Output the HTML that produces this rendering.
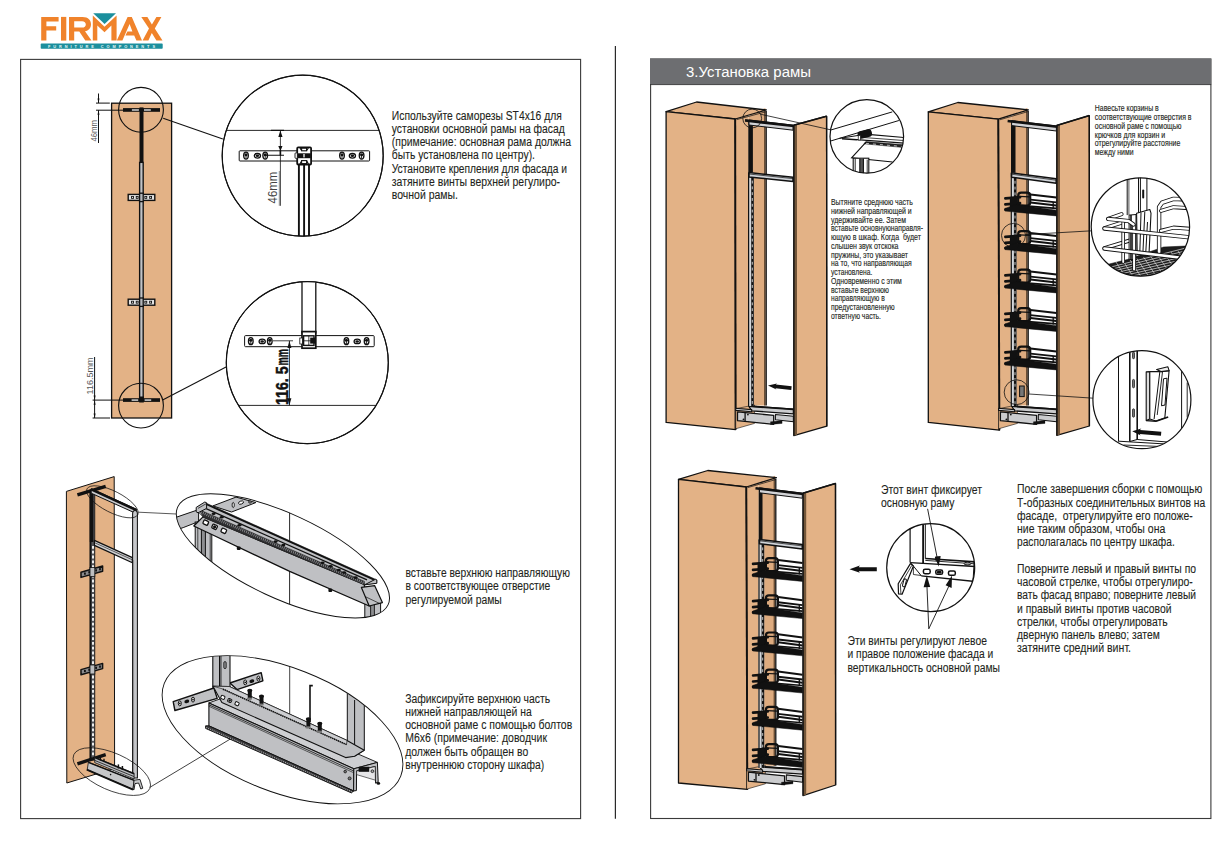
<!DOCTYPE html>
<html lang="ru">
<head>
<meta charset="utf-8">
<title>FIRMAX - installation</title>
<style>
html,body{margin:0;padding:0;background:#ffffff;}
body{width:1232px;height:864px;overflow:hidden;font-family:"Liberation Sans",sans-serif;}
svg{display:block;position:absolute;left:0;top:0;}
svg text{font-family:"Liberation Sans",sans-serif;}
</style>
</head>
<body>
<svg width="1232" height="864" viewBox="0 0 1232 864">
<rect x="0" y="0" width="1232" height="864" fill="#ffffff"/>

<!-- frames -->
<rect x="20.6" y="59.4" width="560" height="759.2" fill="none" stroke="#3a3a3a" stroke-width="1.1"/>
<line x1="615.4" y1="46" x2="615.4" y2="818.8" stroke="#2a2a2a" stroke-width="1.2"/>
<rect x="650.6" y="59" width="560.3" height="759.5" fill="none" stroke="#3a3a3a" stroke-width="1.1"/>
<rect x="650" y="58.6" width="561.2" height="26" fill="#6d6e71"/>
<line x1="650" y1="84.6" x2="1211.2" y2="84.6" stroke="#2a2a2a" stroke-width="0.8"/>
<text x="686" y="77.3" font-size="14.7" fill="#ffffff" textLength="125" lengthAdjust="spacingAndGlyphs">3.Установка рамы</text>
<!-- logo -->
<g id="logo"><path d="M41.2 16.9 H58.6 V21.4 H46.4 V26.3 H56.2 V30.6 H46.4 V40.6 H41.2 Z" fill="#f0832b"/>
<rect x="61" y="16.9" width="5.3" height="23.7" fill="#f0832b"/>
<path d="M69 16.9 H82.5 C88.5 16.9 91 20.3 91 24.2 C91 28.2 88.6 30.6 85 31.3 L91.5 40.6 H85.3 L79.3 31.6 H74.2 V40.6 H69 Z M74.2 21.2 V27.6 H82 C84.5 27.6 85.8 26.3 85.8 24.4 C85.8 22.5 84.5 21.2 82 21.2 Z" fill="#f0832b" fill-rule="evenodd"/>
<path d="M92.8 40.6 V15.6 L104.5 26.8 L116.6 15.6 V40.6 H111.4 V25.6 L104.5 32.2 L97.3 25.6 V40.6 Z" fill="#f0832b"/>
<path d="M116.8 40.6 L127.6 16.9 H131.8 L142 40.6 H136.4 L134.2 35.6 H125.4 L127.4 31.6 H132.4 L129.6 24 L122.4 40.6 Z" fill="#f0832b"/>
<path d="M141.3 16.9 H147.4 L151.9 24.6 L156.4 16.9 H161.4 L154.8 28.6 L162.5 40.6 H156.4 L151.8 33 L148.4 40.6 H142.6 L149 28.6 Z" fill="#f0832b"/>
<path d="M91.6 13.2 H117.8 L104.6 26 Z" fill="#ffffff"/>
<path d="M93.2 13.2 H116 L104.6 24 Z" fill="#1b8f9d"/>
<rect x="40.7" y="43.6" width="122" height="5.2" rx="0.8" fill="#1b8f9d"/>
<text x="48" y="47.7" font-size="3.9" font-weight="bold" fill="#e8f6f7" textLength="107" lengthAdjust="spacing">FURNITURE COMPONENTS</text></g>
<!-- text blocks -->
<text x="391.80" y="119.50" font-size="12.3" fill="#231f20" font-weight="normal" stroke="#231f20" stroke-width="0.1" textLength="170.00" lengthAdjust="spacingAndGlyphs">Используйте саморезы ST4x16 для</text>
<text x="391.80" y="132.75" font-size="12.3" fill="#231f20" font-weight="normal" stroke="#231f20" stroke-width="0.1" textLength="173.00" lengthAdjust="spacingAndGlyphs">установки основной рамы на фасад</text>
<text x="391.80" y="146.00" font-size="12.3" fill="#231f20" font-weight="normal" stroke="#231f20" stroke-width="0.1" textLength="179.30" lengthAdjust="spacingAndGlyphs">(примечание: основная рама должна</text>
<text x="391.80" y="159.25" font-size="12.3" fill="#231f20" font-weight="normal" stroke="#231f20" stroke-width="0.1" textLength="143.20" lengthAdjust="spacingAndGlyphs">быть установлена по центру).</text>
<text x="391.80" y="172.50" font-size="12.3" fill="#231f20" font-weight="normal" stroke="#231f20" stroke-width="0.1" textLength="175.30" lengthAdjust="spacingAndGlyphs">Установите крепления для фасада и</text>
<text x="391.80" y="185.75" font-size="12.3" fill="#231f20" font-weight="normal" stroke="#231f20" stroke-width="0.1" textLength="168.20" lengthAdjust="spacingAndGlyphs">затяните винты верхней регулиро-</text>
<text x="391.80" y="199.00" font-size="12.3" fill="#231f20" font-weight="normal" stroke="#231f20" stroke-width="0.1" textLength="66.20" lengthAdjust="spacingAndGlyphs">вочной рамы.</text>
<text x="405.40" y="577.00" font-size="12.3" fill="#231f20" font-weight="normal" stroke="#231f20" stroke-width="0.1" textLength="164.50" lengthAdjust="spacingAndGlyphs">вставьте верхнюю направляющую</text>
<text x="405.40" y="590.25" font-size="12.3" fill="#231f20" font-weight="normal" stroke="#231f20" stroke-width="0.1" textLength="145.00" lengthAdjust="spacingAndGlyphs">в соответствующее отверстие</text>
<text x="405.40" y="603.50" font-size="12.3" fill="#231f20" font-weight="normal" stroke="#231f20" stroke-width="0.1" textLength="96.40" lengthAdjust="spacingAndGlyphs">регулируемой рамы</text>
<text x="405.20" y="702.50" font-size="12.3" fill="#231f20" font-weight="normal" stroke="#231f20" stroke-width="0.1" textLength="145.00" lengthAdjust="spacingAndGlyphs">Зафиксируйте верхнюю часть</text>
<text x="405.20" y="715.75" font-size="12.3" fill="#231f20" font-weight="normal" stroke="#231f20" stroke-width="0.1" textLength="126.50" lengthAdjust="spacingAndGlyphs">нижней направляющей на</text>
<text x="405.20" y="729.00" font-size="12.3" fill="#231f20" font-weight="normal" stroke="#231f20" stroke-width="0.1" textLength="167.00" lengthAdjust="spacingAndGlyphs">основной раме с помощью болтов</text>
<text x="405.20" y="742.25" font-size="12.3" fill="#231f20" font-weight="normal" stroke="#231f20" stroke-width="0.1" textLength="141.80" lengthAdjust="spacingAndGlyphs">М6х6 (примечание: доводчик</text>
<text x="405.20" y="755.50" font-size="12.3" fill="#231f20" font-weight="normal" stroke="#231f20" stroke-width="0.1" textLength="123.00" lengthAdjust="spacingAndGlyphs">должен быть обращен во</text>
<text x="405.20" y="768.75" font-size="12.3" fill="#231f20" font-weight="normal" stroke="#231f20" stroke-width="0.1" textLength="139.00" lengthAdjust="spacingAndGlyphs">внутреннюю сторону шкафа)</text>
<text x="831.00" y="205.00" font-size="8.4" fill="#231f20" font-weight="normal" stroke="#231f20" stroke-width="0.13" textLength="81.75" lengthAdjust="spacingAndGlyphs">Вытяните среднюю часть</text>
<text x="831.00" y="213.77" font-size="8.4" fill="#231f20" font-weight="normal" stroke="#231f20" stroke-width="0.13" textLength="80.75" lengthAdjust="spacingAndGlyphs">нижней направляющей и</text>
<text x="831.00" y="222.54" font-size="8.4" fill="#231f20" font-weight="normal" stroke="#231f20" stroke-width="0.13" textLength="75.00" lengthAdjust="spacingAndGlyphs">удерживайте ее. Затем</text>
<text x="831.00" y="231.31" font-size="8.4" fill="#231f20" font-weight="normal" stroke="#231f20" stroke-width="0.13" textLength="92.00" lengthAdjust="spacingAndGlyphs">вставьте основнуюнаправля-</text>
<text x="831.00" y="240.08" font-size="8.4" fill="#231f20" font-weight="normal" stroke="#231f20" stroke-width="0.13" textLength="90.00" lengthAdjust="spacingAndGlyphs">ющую в шкаф. Когда&#160;&#160;будет</text>
<text x="831.00" y="248.85" font-size="8.4" fill="#231f20" font-weight="normal" stroke="#231f20" stroke-width="0.13" textLength="67.50" lengthAdjust="spacingAndGlyphs">слышен звук отскока</text>
<text x="831.00" y="257.62" font-size="8.4" fill="#231f20" font-weight="normal" stroke="#231f20" stroke-width="0.13" textLength="77.00" lengthAdjust="spacingAndGlyphs">пружины, это указывает</text>
<text x="831.00" y="266.39" font-size="8.4" fill="#231f20" font-weight="normal" stroke="#231f20" stroke-width="0.13" textLength="80.75" lengthAdjust="spacingAndGlyphs">на то, что направляющая</text>
<text x="831.00" y="275.16" font-size="8.4" fill="#231f20" font-weight="normal" stroke="#231f20" stroke-width="0.13" textLength="41.25" lengthAdjust="spacingAndGlyphs">установлена.</text>
<text x="831.00" y="283.93" font-size="8.4" fill="#231f20" font-weight="normal" stroke="#231f20" stroke-width="0.13" textLength="70.75" lengthAdjust="spacingAndGlyphs">Одновременно с этим</text>
<text x="831.00" y="292.70" font-size="8.4" fill="#231f20" font-weight="normal" stroke="#231f20" stroke-width="0.13" textLength="58.00" lengthAdjust="spacingAndGlyphs">вставьте верхнюю</text>
<text x="831.00" y="301.47" font-size="8.4" fill="#231f20" font-weight="normal" stroke="#231f20" stroke-width="0.13" textLength="53.75" lengthAdjust="spacingAndGlyphs">направляющую в</text>
<text x="831.00" y="310.24" font-size="8.4" fill="#231f20" font-weight="normal" stroke="#231f20" stroke-width="0.13" textLength="63.75" lengthAdjust="spacingAndGlyphs">предустановленную</text>
<text x="831.00" y="319.01" font-size="8.4" fill="#231f20" font-weight="normal" stroke="#231f20" stroke-width="0.13" textLength="50.00" lengthAdjust="spacingAndGlyphs">ответную часть.</text>
<text x="1094.80" y="111.20" font-size="8.4" fill="#231f20" font-weight="normal" stroke="#231f20" stroke-width="0.13" textLength="64.00" lengthAdjust="spacingAndGlyphs">Навесьте корзины в</text>
<text x="1094.80" y="120.00" font-size="8.4" fill="#231f20" font-weight="normal" stroke="#231f20" stroke-width="0.13" textLength="96.75" lengthAdjust="spacingAndGlyphs">соответствующие отверстия в</text>
<text x="1094.80" y="128.80" font-size="8.4" fill="#231f20" font-weight="normal" stroke="#231f20" stroke-width="0.13" textLength="86.75" lengthAdjust="spacingAndGlyphs">основной раме с помощью</text>
<text x="1094.80" y="137.60" font-size="8.4" fill="#231f20" font-weight="normal" stroke="#231f20" stroke-width="0.13" textLength="70.50" lengthAdjust="spacingAndGlyphs">крючков для корзин и</text>
<text x="1094.80" y="146.40" font-size="8.4" fill="#231f20" font-weight="normal" stroke="#231f20" stroke-width="0.13" textLength="85.50" lengthAdjust="spacingAndGlyphs">отрегулируйте расстояние</text>
<text x="1094.80" y="155.20" font-size="8.4" fill="#231f20" font-weight="normal" stroke="#231f20" stroke-width="0.13" textLength="38.75" lengthAdjust="spacingAndGlyphs">между ними</text>
<text x="881.00" y="493.75" font-size="12.3" fill="#231f20" font-weight="normal" stroke="#231f20" stroke-width="0.1" textLength="101.00" lengthAdjust="spacingAndGlyphs">Этот винт фиксирует</text>
<text x="881.00" y="507.00" font-size="12.3" fill="#231f20" font-weight="normal" stroke="#231f20" stroke-width="0.1" textLength="73.50" lengthAdjust="spacingAndGlyphs">основную раму</text>
<text x="847.50" y="645.00" font-size="12.3" fill="#231f20" font-weight="normal" stroke="#231f20" stroke-width="0.1" textLength="139.50" lengthAdjust="spacingAndGlyphs">Эти винты регулируют левое</text>
<text x="847.50" y="658.25" font-size="12.3" fill="#231f20" font-weight="normal" stroke="#231f20" stroke-width="0.1" textLength="145.75" lengthAdjust="spacingAndGlyphs">и правое положение фасада и</text>
<text x="847.50" y="671.50" font-size="12.3" fill="#231f20" font-weight="normal" stroke="#231f20" stroke-width="0.1" textLength="152.50" lengthAdjust="spacingAndGlyphs">вертикальность основной рамы</text>
<text x="1017.00" y="493.25" font-size="12.3" fill="#231f20" font-weight="normal" stroke="#231f20" stroke-width="0.1" textLength="185.25" lengthAdjust="spacingAndGlyphs">После завершения сборки с помощью</text>
<text x="1017.00" y="506.50" font-size="12.3" fill="#231f20" font-weight="normal" stroke="#231f20" stroke-width="0.1" textLength="188.25" lengthAdjust="spacingAndGlyphs">Т-образных соединительных винтов на</text>
<text x="1017.00" y="519.75" font-size="12.3" fill="#231f20" font-weight="normal" stroke="#231f20" stroke-width="0.1" textLength="175.75" lengthAdjust="spacingAndGlyphs">фасаде,&#160;&#160;отрегулируйте его положе-</text>
<text x="1017.00" y="533.00" font-size="12.3" fill="#231f20" font-weight="normal" stroke="#231f20" stroke-width="0.1" textLength="148.25" lengthAdjust="spacingAndGlyphs">ние таким образом, чтобы она</text>
<text x="1017.00" y="546.25" font-size="12.3" fill="#231f20" font-weight="normal" stroke="#231f20" stroke-width="0.1" textLength="157.75" lengthAdjust="spacingAndGlyphs">располагалась по центру шкафа.</text>
<text x="1017.00" y="572.75" font-size="12.3" fill="#231f20" font-weight="normal" stroke="#231f20" stroke-width="0.1" textLength="179.00" lengthAdjust="spacingAndGlyphs">Поверните левый и правый винты по</text>
<text x="1017.00" y="586.00" font-size="12.3" fill="#231f20" font-weight="normal" stroke="#231f20" stroke-width="0.1" textLength="175.75" lengthAdjust="spacingAndGlyphs">часовой стрелке, чтобы отрегулиро-</text>
<text x="1017.00" y="599.25" font-size="12.3" fill="#231f20" font-weight="normal" stroke="#231f20" stroke-width="0.1" textLength="179.00" lengthAdjust="spacingAndGlyphs">вать фасад вправо; поверните левый</text>
<text x="1017.00" y="612.50" font-size="12.3" fill="#231f20" font-weight="normal" stroke="#231f20" stroke-width="0.1" textLength="154.50" lengthAdjust="spacingAndGlyphs">и правый винты против часовой</text>
<text x="1017.00" y="625.75" font-size="12.3" fill="#231f20" font-weight="normal" stroke="#231f20" stroke-width="0.1" textLength="150.75" lengthAdjust="spacingAndGlyphs">стрелки, чтобы отрегулировать</text>
<text x="1017.00" y="639.00" font-size="12.3" fill="#231f20" font-weight="normal" stroke="#231f20" stroke-width="0.1" textLength="142.75" lengthAdjust="spacingAndGlyphs">дверную панель влево; затем</text>
<text x="1017.00" y="652.25" font-size="12.3" fill="#231f20" font-weight="normal" stroke="#231f20" stroke-width="0.1" textLength="114.00" lengthAdjust="spacingAndGlyphs">затяните средний винт.</text>
<rect x="111.6" y="103.2" width="60" height="314.8" fill="#e3b286" stroke="#111111" stroke-width="1.3"/>
<rect x="139.5" y="107.4" width="4" height="55" fill="#111111"/>
<rect x="139.6" y="162.4" width="3.6" height="236" fill="#b4b7bb" stroke="#111" stroke-width="1.3"/>
<line x1="141.5" y1="163" x2="141.5" y2="398" stroke="#c8cacd" stroke-width="0.6"/>
<rect x="123" y="108.1" width="37" height="3.7" fill="#111111"/>
<rect x="131.9" y="109.2" width="7" height="1.6" fill="#c8c8c8"/>
<rect x="144" y="109.2" width="6.8" height="1.6" fill="#c8c8c8"/>
<rect x="123" y="398.2" width="37" height="3.7" fill="#111111"/>
<rect x="131.6" y="399.3" width="6.6" height="1.6" fill="#c8c8c8"/>
<rect x="144.6" y="399.3" width="6.6" height="1.6" fill="#c8c8c8"/>
<rect x="139.2" y="396.5" width="4.6" height="6" fill="#111111"/>
<rect x="128.2" y="194.4" width="26.6" height="6" fill="#e2e2e2" stroke="#111111" stroke-width="1.4"/>
<rect x="131.1" y="196.0" width="2.8" height="2.8" fill="#111111"/>
<rect x="132.0" y="196.8" width="1" height="1.2" fill="#ddd"/>
<rect x="135.79999999999998" y="196.0" width="2.8" height="2.8" fill="#111111"/>
<rect x="136.7" y="196.8" width="1" height="1.2" fill="#ddd"/>
<rect x="144.4" y="196.0" width="2.8" height="2.8" fill="#111111"/>
<rect x="145.3" y="196.8" width="1" height="1.2" fill="#ddd"/>
<rect x="149.2" y="196.0" width="2.8" height="2.8" fill="#111111"/>
<rect x="150.1" y="196.8" width="1" height="1.2" fill="#ddd"/>
<rect x="139.6" y="193.20000000000002" width="3.6" height="8.4" fill="#b4b7bb" stroke="#111" stroke-width="1.3"/>
<rect x="128.2" y="299.2" width="26.6" height="6" fill="#e2e2e2" stroke="#111111" stroke-width="1.4"/>
<rect x="131.1" y="300.8" width="2.8" height="2.8" fill="#111111"/>
<rect x="132.0" y="301.59999999999997" width="1" height="1.2" fill="#ddd"/>
<rect x="135.79999999999998" y="300.8" width="2.8" height="2.8" fill="#111111"/>
<rect x="136.7" y="301.59999999999997" width="1" height="1.2" fill="#ddd"/>
<rect x="144.4" y="300.8" width="2.8" height="2.8" fill="#111111"/>
<rect x="145.3" y="301.59999999999997" width="1" height="1.2" fill="#ddd"/>
<rect x="149.2" y="300.8" width="2.8" height="2.8" fill="#111111"/>
<rect x="150.1" y="301.59999999999997" width="1" height="1.2" fill="#ddd"/>
<rect x="139.6" y="298.0" width="3.6" height="8.4" fill="#b4b7bb" stroke="#111" stroke-width="1.3"/>
<circle cx="141" cy="109.8" r="22.4" fill="none" stroke="#111111" stroke-width="1.1"/>
<circle cx="141" cy="405.6" r="22.4" fill="none" stroke="#111111" stroke-width="1.1"/>
<line x1="163.2" y1="118.3" x2="222.8" y2="139" stroke="#111111" stroke-width="1.05"/>
<line x1="162.6" y1="400" x2="227" y2="366.5" stroke="#111111" stroke-width="1.05"/>
<line x1="96" y1="103.1" x2="109.8" y2="103.1" stroke="#111111" stroke-width="1.0"/>
<line x1="96" y1="110.2" x2="123" y2="110.2" stroke="#111111" stroke-width="1.0"/>
<line x1="98.5" y1="93.5" x2="98.5" y2="103" stroke="#111111" stroke-width="1.0"/>
<line x1="98.5" y1="110.2" x2="98.5" y2="143" stroke="#111111" stroke-width="1.0"/>
<path d="M98.5 103.1 L97.5 98.6 L99.5 98.6 Z" fill="#111111"/>
<path d="M98.5 110.2 L97.5 114.7 L99.5 114.7 Z" fill="#111111"/>
<text transform="translate(96.6 141.6) rotate(-90)" font-size="8.6" fill="#555" textLength="21.5" lengthAdjust="spacingAndGlyphs">46mm</text>
<line x1="92.6" y1="400.1" x2="123" y2="400.1" stroke="#111111" stroke-width="1.0"/>
<line x1="92.6" y1="418" x2="110" y2="418" stroke="#111111" stroke-width="1.0"/>
<line x1="94.6" y1="357" x2="94.6" y2="418" stroke="#111111" stroke-width="1.0"/>
<path d="M94.6 400.1 L93.6 395.6 L95.6 395.6 Z" fill="#111111"/>
<path d="M94.6 400.2 L93.6 404.7 L95.6 404.7 Z" fill="#111111"/>
<path d="M94.6 418 L93.6 413.5 L95.6 413.5 Z" fill="#111111"/>
<text transform="translate(92.8 394.4) rotate(-90)" font-size="8.6" fill="#555" textLength="37" lengthAdjust="spacingAndGlyphs">116.5mm</text>
<clipPath id="c1"><circle cx="302.7" cy="155.7" r="80.5"/></clipPath>
<circle cx="302.7" cy="155.7" r="80.5" fill="#fff" stroke="#111111" stroke-width="1"/>
<g clip-path="url(#c1)"><line x1="220" y1="130.4" x2="390" y2="130.4" stroke="#111111" stroke-width="0.9"/><rect x="239.2" y="150.8" width="130.4" height="10.2" rx="0.8" fill="#fff" stroke="#111111" stroke-width="1"/><ellipse cx="246" cy="155.6" rx="2.34" ry="3.51" fill="#fff" stroke="#111111" stroke-width="1.3"/><circle cx="246" cy="154.69" r="1.56" fill="#111111"/><line x1="246" y1="155.6" x2="246" y2="158.72" stroke="#111111" stroke-width="0.9"/><ellipse cx="257.4" cy="155.8" rx="3.10" ry="2.30" fill="#fff" stroke="#111111" stroke-width="1.3"/><ellipse cx="257.4" cy="155.8" rx="1.72" ry="1.26" fill="#111111"/><ellipse cx="265.2" cy="155.6" rx="2.34" ry="3.51" fill="#fff" stroke="#111111" stroke-width="1.3"/><circle cx="265.2" cy="154.69" r="1.56" fill="#111111"/><line x1="265.2" y1="155.6" x2="265.2" y2="158.72" stroke="#111111" stroke-width="0.9"/><ellipse cx="342" cy="155.6" rx="2.34" ry="3.51" fill="#fff" stroke="#111111" stroke-width="1.3"/><circle cx="342" cy="154.69" r="1.56" fill="#111111"/><line x1="342" y1="155.6" x2="342" y2="158.72" stroke="#111111" stroke-width="0.9"/><ellipse cx="352.4" cy="155.8" rx="3.10" ry="2.30" fill="#fff" stroke="#111111" stroke-width="1.3"/><ellipse cx="352.4" cy="155.8" rx="1.72" ry="1.26" fill="#111111"/><ellipse cx="361.6" cy="155.6" rx="2.34" ry="3.51" fill="#fff" stroke="#111111" stroke-width="1.3"/><circle cx="361.6" cy="154.69" r="1.56" fill="#111111"/><line x1="361.6" y1="155.6" x2="361.6" y2="158.72" stroke="#111111" stroke-width="0.9"/><line x1="298.9" y1="163" x2="298.9" y2="240" stroke="#111111" stroke-width="1.9"/><line x1="304.1" y1="163" x2="304.1" y2="240" stroke="#111111" stroke-width="1.9"/><line x1="309.0" y1="163" x2="309.0" y2="240" stroke="#111111" stroke-width="1.9"/><rect x="297.2" y="147.4" width="13.9" height="17.1" rx="1" fill="#fff" stroke="#111111" stroke-width="1.8"/><rect x="297.6" y="153.3" width="13.2" height="4.9" fill="#111111"/><rect x="303.2" y="154" width="1.6" height="3.4" fill="#ccc"/><path d="M300 148 L301.6 150.4 M308.4 148 L306.6 150.4 M300 164 L302 160.4 M308.4 164 L306.4 160.4" stroke="#111111" stroke-width="1.2" fill="none"/><rect x="301.6" y="148.2" width="5" height="2.6" fill="#fff" stroke="#111111" stroke-width="1.1"/><rect x="301.6" y="160.6" width="5" height="3" fill="#fff" stroke="#111111" stroke-width="1.1"/><rect x="295" y="152.8" width="2.4" height="5.6" rx="1" fill="#fff" stroke="#111111" stroke-width="0.9"/><line x1="280.4" y1="130.4" x2="280.4" y2="205.8" stroke="#111111" stroke-width="0.8"/><line x1="271" y1="130.4" x2="284" y2="130.4" stroke="#111111" stroke-width="1.2"/><line x1="266" y1="155.3" x2="284" y2="155.3" stroke="#111111" stroke-width="1.1"/><path d="M280.4 130.6 L278.29999999999995 137.0 L282.5 137.0 Z" fill="#111111"/><path d="M280.4 151 L278.29999999999995 146 L282.5 146 Z" fill="#111111"/><line x1="280.4" y1="150" x2="280.4" y2="155.4" stroke="#111111" stroke-width="1.6"/><text transform="translate(277.4 203.4) rotate(-90)" font-size="12" fill="#444" textLength="31.5" lengthAdjust="spacingAndGlyphs">46mm</text><line x1="279.3" y1="171" x2="279.3" y2="205.8" stroke="#444" stroke-width="0.6"/></g>
<circle cx="302.7" cy="155.7" r="80.5" fill="none" stroke="#111111" stroke-width="1.2"/>
<clipPath id="c2"><circle cx="307.3" cy="362.7" r="81"/></clipPath>
<circle cx="307.3" cy="362.7" r="81" fill="#fff" stroke="#111111" stroke-width="1"/>
<g clip-path="url(#c2)"><line x1="220" y1="405.4" x2="395" y2="405.4" stroke="#111111" stroke-width="0.9"/><rect x="302" y="270" width="13.8" height="63" fill="#fff" stroke="#111111" stroke-width="1.3"/><rect x="244.6" y="335.6" width="129.6" height="11.1" rx="1" fill="#fff" stroke="#111111" stroke-width="1"/><ellipse cx="250.8" cy="341.2" rx="2.34" ry="3.51" fill="#fff" stroke="#111111" stroke-width="1.3"/><circle cx="250.8" cy="340.29" r="1.56" fill="#111111"/><line x1="250.8" y1="341.2" x2="250.8" y2="344.32" stroke="#111111" stroke-width="0.9"/><ellipse cx="262.2" cy="341.4" rx="3.10" ry="2.30" fill="#fff" stroke="#111111" stroke-width="1.3"/><ellipse cx="262.2" cy="341.4" rx="1.72" ry="1.26" fill="#111111"/><ellipse cx="269.8" cy="341.2" rx="2.34" ry="3.51" fill="#fff" stroke="#111111" stroke-width="1.3"/><circle cx="269.8" cy="340.29" r="1.56" fill="#111111"/><line x1="269.8" y1="341.2" x2="269.8" y2="344.32" stroke="#111111" stroke-width="0.9"/><ellipse cx="346.4" cy="341.2" rx="2.34" ry="3.51" fill="#fff" stroke="#111111" stroke-width="1.3"/><circle cx="346.4" cy="340.29" r="1.56" fill="#111111"/><line x1="346.4" y1="341.2" x2="346.4" y2="344.32" stroke="#111111" stroke-width="0.9"/><ellipse cx="357.2" cy="341.4" rx="3.10" ry="2.30" fill="#fff" stroke="#111111" stroke-width="1.3"/><ellipse cx="357.2" cy="341.4" rx="1.72" ry="1.26" fill="#111111"/><ellipse cx="366.6" cy="341.2" rx="2.34" ry="3.51" fill="#fff" stroke="#111111" stroke-width="1.3"/><circle cx="366.6" cy="340.29" r="1.56" fill="#111111"/><line x1="366.6" y1="341.2" x2="366.6" y2="344.32" stroke="#111111" stroke-width="0.9"/><rect x="302" y="331.6" width="13.8" height="16.6" fill="#fff" stroke="#111111" stroke-width="1.7"/><rect x="303.6" y="335.8" width="10.4" height="9.6" fill="#fff" stroke="#111111" stroke-width="1.4"/><line x1="308.8" y1="336" x2="308.8" y2="346" stroke="#111111" stroke-width="0.8"/><line x1="303" y1="340.8" x2="315" y2="340.8" stroke="#111111" stroke-width="0.8"/><rect x="310.2" y="337.6" width="5.4" height="6" fill="#111111"/><rect x="299.8" y="338" width="2.6" height="6" fill="#fff" stroke="#111111" stroke-width="0.8"/><line x1="289.4" y1="340.8" x2="289.4" y2="405.4" stroke="#111111" stroke-width="0.9"/><line x1="273" y1="340.8" x2="293" y2="340.8" stroke="#111111" stroke-width="0.8"/><path d="M289.4 341 L287.4 348 L291.4 348 Z" fill="#111111"/><path d="M289.4 405.2 L287.4 398.2 L291.4 398.2 Z" fill="#111111"/><text transform="translate(287.6 405) rotate(-90)" font-size="16" font-weight="bold" fill="#111111" stroke="#111111" stroke-width="0.5" textLength="38.6" lengthAdjust="spacingAndGlyphs">116. 5</text><text transform="translate(287.6 365.4) rotate(-90)" font-size="16" font-weight="bold" fill="#111111" stroke="#111111" stroke-width="0.5" textLength="16.4" lengthAdjust="spacingAndGlyphs">mm</text></g>
<circle cx="307.3" cy="362.7" r="81" fill="none" stroke="#111111" stroke-width="1.2"/>
<polygon points="66.4,491.4 114.2,476.6 114.6,768.4 66.8,783.0" fill="#e3b286" stroke="#111111" stroke-width="1.0" stroke-linejoin="round" />
<line x1="77.4" y1="494.8" x2="105.7" y2="486.4" stroke="#111111" stroke-width="3.4" />
<rect x="90" y="490" width="4.8" height="270" fill="#55565a" stroke="#111111" stroke-width="0.8"/>
<line x1="90.6" y1="490.0" x2="90.6" y2="760.0" stroke="#111111" stroke-width="1.6" />
<rect x="89.8" y="490" width="3.6" height="52" fill="#111111"/>
<line x1="93.0" y1="546.0" x2="93.0" y2="758.0" stroke="#f4f4f4" stroke-width="1.9" stroke-dasharray="2.8 2"/>
<polygon points="91.2,488.6 136.4,509.2 136.4,513.6 91.2,493.2" fill="#cacbce" stroke="#111111" stroke-width="1.0" stroke-linejoin="round" />
<line x1="91.2" y1="489.4" x2="136.4" y2="510.2" stroke="#111111" stroke-width="2.4" />
<polygon points="94.4,540.4 132.4,557.6 132.4,562.8 94.4,545.4" fill="#cfd0d3" stroke="#111111" stroke-width="1.25" stroke-linejoin="round" />
<line x1="94.4" y1="542.6" x2="132.4" y2="559.8" stroke="#111111" stroke-width="0.6" />
<path d="M132.6 778 V514 Q132.6 510.4 135 510.4 Q137.4 510.4 137.4 514 V778 Z" fill="#c6c7ca" stroke="#111111" stroke-width="1.05"/>
<line x1="133.6" y1="560.0" x2="133.6" y2="776.0" stroke="#666" stroke-width="0.5" />
<polygon points="81.0,572.2 102.6,566.0 102.6,571.2 81.0,577.4" fill="#8a8a8c" stroke="#111111" stroke-width="1.5" stroke-linejoin="round" />
<rect x="84.0" y="572.5" width="1.8" height="2.2" fill="#111111"/>
<rect x="88.3" y="571.2" width="1.8" height="2.2" fill="#111111"/>
<rect x="95.2" y="569.3" width="1.8" height="2.2" fill="#111111"/>
<rect x="99.1" y="568.1" width="1.8" height="2.2" fill="#111111"/>
<rect x="90" y="567.6" width="4.8" height="9" fill="#bdbec0" stroke="#111111" stroke-width="0.8"/>
<polygon points="81.0,669.6 102.6,663.4 102.6,668.6 81.0,674.8" fill="#8a8a8c" stroke="#111111" stroke-width="1.5" stroke-linejoin="round" />
<rect x="84.0" y="669.9" width="1.8" height="2.2" fill="#111111"/>
<rect x="88.3" y="668.6" width="1.8" height="2.2" fill="#111111"/>
<rect x="95.2" y="666.7" width="1.8" height="2.2" fill="#111111"/>
<rect x="99.1" y="665.5" width="1.8" height="2.2" fill="#111111"/>
<rect x="90" y="665.0" width="4.8" height="9" fill="#bdbec0" stroke="#111111" stroke-width="0.8"/>
<line x1="77.4" y1="763.8" x2="105.7" y2="754.6" stroke="#111111" stroke-width="3.4" />
<polygon points="94.7,757.2 134.1,773.4 134.1,779.0 94.7,762.6" fill="#b9babd" stroke="#111111" stroke-width="0.8" stroke-linejoin="round" />
<line x1="94.7" y1="757.6" x2="134.1" y2="773.8" stroke="#111111" stroke-width="1.5" />
<line x1="94.7" y1="760.4" x2="134.1" y2="776.6" stroke="#111111" stroke-width="0.8" />
<line x1="118.4" y1="764.4" x2="118.4" y2="768.4" stroke="#111111" stroke-width="1.5" />
<line x1="122.4" y1="766.0" x2="122.4" y2="770.0" stroke="#111111" stroke-width="1.5" />
<line x1="100.4" y1="757.4" x2="100.4" y2="760.4" stroke="#111111" stroke-width="1.3" />
<line x1="104.0" y1="758.8" x2="104.0" y2="761.8" stroke="#111111" stroke-width="1.3" />
<polygon points="88.4,762.2 134.1,780.2 133.0,789.4 87.2,769.8" fill="#c6c7c9" stroke="#111111" stroke-width="0.8" stroke-linejoin="round" />
<line x1="88.4" y1="762.4" x2="134.1" y2="780.4" stroke="#111111" stroke-width="1.5" />
<line x1="86.8" y1="769.6" x2="133.0" y2="789.6" stroke="#111111" stroke-width="2.0" />
<polygon points="134.1,780.2 140.0,779.4 142.8,788.2 140.8,789.0 138.6,783.0 135.0,783.6 134.0,789.8 133.0,789.4" fill="#c6c7c9" stroke="#111111" stroke-width="0.9" stroke-linejoin="round" />
<circle cx="110.6" cy="774.6" r="0.8" fill="#111111"/>
<ellipse cx="112.4" cy="501.8" rx="28.5" ry="10.6" transform="rotate(27 112.4 501.8)" fill="none" stroke="#111111" stroke-width="0.7"/>
<ellipse cx="111.8" cy="771.6" rx="41.6" ry="18.4" transform="rotate(24 111.8 771.6)" fill="none" stroke="#111111" stroke-width="0.7"/>
<line x1="138.4" y1="512.2" x2="176.4" y2="514.0" stroke="#111111" stroke-width="0.7" />
<clipPath id="e1"><ellipse cx="282.9" cy="555.9" rx="116" ry="42" transform="rotate(25 282.9 555.9)"/></clipPath>
<ellipse cx="282.9" cy="555.9" rx="116" ry="42" transform="rotate(25 282.9 555.9)" fill="#fff" stroke="none"/>
<g clip-path="url(#e1)"><line x1="289.6" y1="500.0" x2="289.6" y2="612.0" stroke="#111111" stroke-width="0.9" /><polygon points="170.0,519.4 198.6,509.6 198.6,521.6 183.2,527.6 170.0,532.0" fill="#bfc0c3" stroke="#111111" stroke-width="1.0" stroke-linejoin="round" /><polygon points="212.9,505.9 236.0,497.1 255.8,502.6 231.6,512.0" fill="#bfc0c3" stroke="#111111" stroke-width="1.0" stroke-linejoin="round" /><ellipse cx="233.2" cy="505" rx="1.1" ry="2.6" fill="#fff" stroke="#111111" stroke-width="0.9"/><ellipse cx="241" cy="502.6" rx="2.6" ry="1.5" transform="rotate(-20 241 502.6)" fill="#fff" stroke="#111111" stroke-width="0.9"/><ellipse cx="250" cy="502" rx="1.5" ry="1.2" fill="#888" stroke="#111111" stroke-width="0.7"/><rect x="195.2" y="522" width="16.6" height="60" fill="#bfc0c3" stroke="#111111" stroke-width="1"/><line x1="197.8" y1="524.0" x2="197.8" y2="582.0" stroke="#111111" stroke-width="0.7" /><rect x="201.4" y="524" width="3.8" height="58" fill="#8d8e91"/><line x1="201.4" y1="524.0" x2="201.4" y2="582.0" stroke="#111111" stroke-width="1.0" /><line x1="205.4" y1="528.0" x2="205.4" y2="582.0" stroke="#111111" stroke-width="1.0" /><line x1="210.2" y1="530.0" x2="210.2" y2="582.0" stroke="#111111" stroke-width="0.7" /><rect x="364.8" y="603" width="15.8" height="16" fill="#bfc0c3" stroke="#111111" stroke-width="1"/><rect x="370.6" y="604" width="3.6" height="14" fill="#8d8e91"/><line x1="370.6" y1="604.0" x2="370.6" y2="618.0" stroke="#111111" stroke-width="0.9" /><line x1="374.4" y1="604.0" x2="374.4" y2="618.0" stroke="#111111" stroke-width="0.9" /><polygon points="203.0,516.9 364.0,584.2 369.2,606.0 289.7,571.4 211.8,534.5 193.8,526.0" fill="#bfc0c3" stroke="#111111" stroke-width="1.3" stroke-linejoin="round" /><rect x="236.8" y="546.6" width="3.8" height="3.4" rx="1" fill="#111111"/><rect x="328.4" y="588.6" width="3.8" height="3.4" rx="1" fill="#111111"/><rect x="203.3" y="520.5" width="5" height="4.2" rx="1" transform="rotate(24 205.8 522.6)" fill="#fff" stroke="#111111" stroke-width="1.3"/><rect x="212.1" y="524.6999999999999" width="5" height="4.2" rx="1" transform="rotate(24 214.6 526.8)" fill="#fff" stroke="#111111" stroke-width="1.3"/><circle cx="214.6" cy="526.8" r="1.6" fill="#111111"/><rect x="221.3" y="528.6999999999999" width="5" height="4.2" rx="1" transform="rotate(24 223.8 530.8)" fill="#fff" stroke="#111111" stroke-width="1.3"/><polygon points="198.4,508.6 206.3,503.2 376.8,579.9 376.8,582.9 364.8,584.9 203.0,516.9 198.4,512.4" fill="#bfc0c3" stroke="#111111" stroke-width="0.5" stroke-linejoin="round" /><polygon points="199.0,509.5 364.4,581.3 364.6,585.0 203.0,517.0" fill="#2e2e30" stroke="#111111" stroke-width="0.4" stroke-linejoin="round" /><path d="M201.0 512.2 L364 583.0" stroke="#8e8f92" stroke-width="2.6" stroke-dasharray="0.8 1.25" fill="none"/><line x1="206.0" y1="504.0" x2="376.8" y2="580.8" stroke="#111111" stroke-width="1.9" /><line x1="199.0" y1="505.5" x2="367.0" y2="579.9" stroke="#111111" stroke-width="1.3" /><polygon points="196.2,507.4 204.8,502.0 206.6,502.8 206.6,508.4 198.0,512.8 196.2,511.8" fill="#bfc0c3" stroke="#111111" stroke-width="1.0" stroke-linejoin="round" /><line x1="198.0" y1="508.4" x2="206.4" y2="503.6" stroke="#111111" stroke-width="0.7" /><ellipse cx="213.6" cy="513.7" rx="2" ry="1.3" fill="#111111"/><ellipse cx="221.6" cy="517.3" rx="2" ry="1.3" fill="#111111"/><ellipse cx="239.4" cy="525.3" rx="2" ry="1.3" fill="#111111"/><ellipse cx="275.6" cy="541.6" rx="2" ry="1.3" fill="#111111"/><ellipse cx="283.4" cy="545.1" rx="2" ry="1.3" fill="#111111"/><ellipse cx="322.6" cy="562.7" rx="2" ry="1.3" fill="#111111"/><ellipse cx="330.6" cy="566.3" rx="2" ry="1.3" fill="#111111"/><ellipse cx="338.8" cy="570.0" rx="2" ry="1.3" fill="#111111"/><ellipse cx="344.2" cy="572.5" rx="2" ry="1.3" fill="#111111"/><ellipse cx="355.6" cy="577.6" rx="2" ry="1.3" fill="#111111"/><polygon points="361.4,587.4 374.6,585.6 382.4,602.6 369.2,606.0" fill="#bfc0c3" stroke="#111111" stroke-width="1.2" stroke-linejoin="round" /><line x1="365.2" y1="596.6" x2="379.0" y2="603.2" stroke="#111111" stroke-width="0.7" /><polygon points="364.6,584.8 376.8,583.3 376.8,580.1 375.4,579.3" fill="#bfc0c3" stroke="#111111" stroke-width="1.0" stroke-linejoin="round" /></g>
<ellipse cx="282.9" cy="555.9" rx="116" ry="42" transform="rotate(25 282.9 555.9)" fill="none" stroke="#111111" stroke-width="0.95"/>
<clipPath id="e2"><ellipse cx="282.5" cy="729.75" rx="127" ry="62" transform="rotate(21.4 282.5 729.75)"/></clipPath>
<ellipse cx="282.5" cy="729.75" rx="127" ry="62" transform="rotate(21.4 282.5 729.75)" fill="#fff" stroke="none"/>
<line x1="149.8" y1="787.4" x2="231.0" y2="738.6" stroke="#111111" stroke-width="0.8" />
<g clip-path="url(#e2)"><line x1="289.7" y1="640.0" x2="289.7" y2="714.0" stroke="#111111" stroke-width="0.8" /><polygon points="173.2,701.7 213.9,688.0 217.2,698.4 174.9,710.5" fill="#bfc0c3" stroke="#111111" stroke-width="1.4" stroke-linejoin="round" /><polygon points="229.9,683.0 261.2,672.6 262.9,680.8 237.0,689.6" fill="#bfc0c3" stroke="#111111" stroke-width="1.4" stroke-linejoin="round" /><ellipse cx="179.8" cy="703.4" rx="1.5" ry="2.5" fill="#fff" stroke="#111111" stroke-width="1"/><circle cx="179.8" cy="703.4" r="0.9" fill="#111111"/><ellipse cx="186.8" cy="701.4" rx="2.5" ry="1.7" transform="rotate(-18 186.8 701.4)" fill="#111111"/><ellipse cx="193" cy="699.6" rx="1.5" ry="2.5" fill="#fff" stroke="#111111" stroke-width="1"/><circle cx="193" cy="699.6" r="0.9" fill="#111111"/><ellipse cx="245.2" cy="682.4" rx="1.5" ry="2.5" fill="#fff" stroke="#111111" stroke-width="1"/><circle cx="245.2" cy="682.4" r="0.9" fill="#111111"/><ellipse cx="251.8" cy="681.2" rx="2.5" ry="1.7" transform="rotate(-18 251.8 681.2)" fill="#111111"/><ellipse cx="258.4" cy="678.6" rx="1.5" ry="2.5" fill="#fff" stroke="#111111" stroke-width="1"/><circle cx="258.4" cy="678.6" r="0.9" fill="#111111"/><polygon points="208.9,702.9 226.0,696.8 377.4,762.4 353.8,768.8" fill="#cecfd2" stroke="#111111" stroke-width="0.9" stroke-linejoin="round" /><rect x="212.8" y="640" width="17.2" height="47.4" fill="#bfc0c3" stroke="#111111" stroke-width="1.1"/><line x1="219.6" y1="640.0" x2="219.6" y2="688.0" stroke="#111111" stroke-width="1.2" /><line x1="221.0" y1="640.0" x2="221.0" y2="688.0" stroke="#111111" stroke-width="0.8" /><rect x="223.8" y="661.6" width="2.4" height="7" rx="1.2" fill="#8d8e91" stroke="#111111" stroke-width="0.8"/><polygon points="347.3,690.0 364.3,690.0 364.3,750.2 354.6,756.2 347.3,752.0" fill="#bfc0c3" stroke="#111111" stroke-width="1.0" stroke-linejoin="round" /><line x1="354.6" y1="700.0" x2="354.6" y2="756.0" stroke="#111111" stroke-width="1.0" /><polygon points="213.0,686.2 229.2,686.5 347.0,740.4 364.3,750.2 354.6,756.2 345.6,757.6 221.9,702.6" fill="#bfc0c3" stroke="#111111" stroke-width="1.1" stroke-linejoin="round" /><polygon points="213.0,686.2 229.2,686.5 347.0,740.4 346.5,744.5 222.9,689.0" fill="#cecfd2" stroke="#111111" stroke-width="0.6" stroke-linejoin="round" /><path d="M222.9 689.2 L346.5 744.6" stroke="#111111" stroke-width="1.5" stroke-dasharray="1.2 0.9" fill="none"/><rect x="220.9" y="695.6999999999999" width="3.8" height="3.4" rx="0.8" transform="rotate(24 222.8 697.4)" fill="#fff" stroke="#111111" stroke-width="1"/><rect x="227.79999999999998" y="698.8" width="3.8" height="3.4" rx="0.8" transform="rotate(24 229.7 700.5)" fill="#fff" stroke="#111111" stroke-width="1"/><circle cx="229.7" cy="700.5" r="1.2" fill="#111111"/><rect x="235.1" y="702.0" width="3.8" height="3.4" rx="0.8" transform="rotate(24 237 703.7)" fill="#fff" stroke="#111111" stroke-width="1"/><rect x="247.8" y="689.6" width="4" height="9" rx="1.3" fill="#111111"/><ellipse cx="249.8" cy="690.4" rx="2.6" ry="1.7" fill="#111111"/><ellipse cx="249.4" cy="698.8000000000001" rx="2.8" ry="1.2" fill="#777"/><rect x="259.5" y="695.4" width="4" height="9" rx="1.3" fill="#111111"/><ellipse cx="261.5" cy="696.1999999999999" rx="2.6" ry="1.7" fill="#111111"/><ellipse cx="261.1" cy="704.6" rx="2.8" ry="1.2" fill="#777"/><rect x="306.4" y="718.2" width="4" height="9" rx="1.3" fill="#111111"/><ellipse cx="308.4" cy="719.0" rx="2.6" ry="1.7" fill="#111111"/><ellipse cx="308.0" cy="727.4000000000001" rx="2.8" ry="1.2" fill="#777"/><rect x="317.8" y="722.6" width="4" height="9" rx="1.3" fill="#111111"/><ellipse cx="319.8" cy="723.4" rx="2.6" ry="1.7" fill="#111111"/><ellipse cx="319.40000000000003" cy="731.8000000000001" rx="2.8" ry="1.2" fill="#777"/><path d="M312.8 685.6 H310 V722" fill="none" stroke="#111111" stroke-width="1.6"/><polygon points="208.9,702.9 353.8,768.8 353.6,790.9 208.9,726.0" fill="#bfc0c3" stroke="#111111" stroke-width="1.1" stroke-linejoin="round" /><line x1="208.9" y1="704.8" x2="353.8" y2="771.0" stroke="#111111" stroke-width="0.8" /><line x1="208.9" y1="706.3" x2="353.8" y2="772.8" stroke="#111111" stroke-width="0.6" /><polygon points="205.6,725.8 208.9,725.8 353.6,790.9 351.4,792.9 205.6,728.4" fill="#3a3a3c" stroke="#111111" stroke-width="0.9" stroke-linejoin="round" /><path d="M206.4 727.6 L351.6 791.7" stroke="#bdbdbf" stroke-width="1.1" stroke-dasharray="0.8 1.2" fill="none"/><polygon points="353.8,768.8 377.4,762.4 378.2,781.8 375.6,783.2 375.2,766.4 356.6,770.8 356.4,790.6 353.6,790.9" fill="#bfc0c3" stroke="#111111" stroke-width="1.0" stroke-linejoin="round" /><polygon points="356.6,771.0 375.2,766.6 375.4,780.2 356.6,774.6" fill="#e6e6e8" stroke="#111111" stroke-width="0.6" stroke-linejoin="round" /><rect x="358.6" y="766.8" width="10.6" height="5" fill="#111111"/><circle cx="372.4" cy="771.2" r="1.4" fill="#aaa" stroke="#111111" stroke-width="0.8"/><circle cx="345.2" cy="771.6" r="1.3" fill="#777" stroke="#111111" stroke-width="0.8"/><circle cx="349.6" cy="778.4" r="1.5" fill="#777" stroke="#111111" stroke-width="0.8"/><ellipse cx="378.4" cy="783.4" rx="1.8" ry="1.3" fill="#111111"/></g>
<ellipse cx="282.5" cy="729.75" rx="127" ry="62" transform="rotate(21.4 282.5 729.75)" fill="none" stroke="#111111" stroke-width="0.9"/>
<polygon points="748.5,116.0 765.4,108.0 765.4,405.4 748.5,405.4" fill="#ddab7f" stroke="#111111" stroke-width="0" stroke-linejoin="round" /><polygon points="735.2,116.0 748.5,116.0 748.5,409.0 735.2,409.0" fill="#e3b286" stroke="#111111" stroke-width="0" stroke-linejoin="round" /><line x1="764.8" y1="111.0" x2="764.8" y2="405.4" stroke="#6a4e35" stroke-width="1.6" /><line x1="766.2" y1="111.0" x2="766.2" y2="405.4" stroke="#111" stroke-width="1.3" /><polygon points="666.1,111.6 696.6,102.0 766.4,110.0 735.2,119.0" fill="#e3b286" stroke="#111111" stroke-width="1.3" stroke-linejoin="round" /><line x1="736.7" y1="119.6" x2="765.9" y2="111.8" stroke="#111111" stroke-width="0.7" /><polygon points="666.1,111.6 735.2,119.0 735.6,429.6 666.1,422.4" fill="#e3b286" stroke="#111111" stroke-width="1.3" stroke-linejoin="round" /><line x1="735.2" y1="119.0" x2="735.6" y2="429.6" stroke="#111111" stroke-width="1.9" /><polygon points="793.8,125.2 826.6,116.2 826.8,426.2 793.8,435.6" fill="#e3b286" stroke="#111111" stroke-width="1.3" stroke-linejoin="round" /><polygon points="793.8,125.2 797.0,124.3 797.0,434.7 793.8,435.6" fill="#735639" stroke="none" stroke-width="0" stroke-linejoin="round" /><line x1="794.0" y1="125.2" x2="794.0" y2="435.6" stroke="#111111" stroke-width="1.2" /><line x1="793.8" y1="125.2" x2="826.6" y2="116.2" stroke="#111111" stroke-width="1.6" /><line x1="826.6" y1="116.2" x2="826.8" y2="426.2" stroke="#111111" stroke-width="1.3" />
<polygon points="735.7,408.7 754.5,405.0 754.5,423.4 735.7,428.8" fill="#e3b286" stroke="#111111" stroke-width="0.6" stroke-linejoin="round" /><polygon points="748.7,406.0 793.4,409.1 793.4,413.8 751.7,410.9" fill="#cbccce" stroke="#111111" stroke-width="1.3" stroke-linejoin="round" /><line x1="748.7" y1="406.2" x2="793.4" y2="409.3" stroke="#111111" stroke-width="1.8" /><polygon points="735.7,408.2 751.7,409.6 751.7,411.8 735.7,410.4" fill="#cbccce" stroke="#111111" stroke-width="1.1" stroke-linejoin="round" /><polygon points="775.4,414.5 793.4,416.2 793.4,421.8 775.4,419.8" fill="#cbccce" stroke="#111111" stroke-width="1.1" stroke-linejoin="round" /><polygon points="737.5,411.8 773.7,415.4 773.7,424.3 737.5,420.7" fill="#cbccce" stroke="#111111" stroke-width="1.3" stroke-linejoin="round" /><line x1="745.1" y1="412.6" x2="745.1" y2="421.4" stroke="#111111" stroke-width="1.3" /><polygon points="770.5,421.8 782.1,420.6 782.1,423.4 770.5,424.6" fill="#111111" stroke="#111111" stroke-width="0.3" stroke-linejoin="round" /><circle cx="747.9" cy="414.6" r="0.9" fill="#111111"/><circle cx="743.5" cy="419.4" r="0.9" fill="#111111"/>
<rect x="748.3" y="120.0" width="4.6" height="54.6" fill="#111111"/><rect x="748.0" y="172.6" width="5.8" height="233.4" fill="#d4d7db"/><line x1="748.6" y1="172.6" x2="748.6" y2="406.0" stroke="#111111" stroke-width="1.2" /><line x1="752.5" y1="175.6" x2="752.5" y2="406.0" stroke="#111111" stroke-width="2.6" /><line x1="752.3" y1="180.6" x2="752.3" y2="406.0" stroke="#f2f2f2" stroke-width="0.8" stroke-dasharray="2.9 2.9"/><polygon points="749.0,120.0 793.0,125.2 793.0,130.2 749.0,125.0" fill="#d2d3d6" stroke="#111111" stroke-width="1.0" stroke-linejoin="round" /><line x1="745.0" y1="120.4" x2="794.0" y2="126.0" stroke="#111111" stroke-width="2.6" /><polygon points="749.0,172.6 793.0,177.2 793.0,181.6 749.0,177.0" fill="#d0d4d9" stroke="#111111" stroke-width="1.5" stroke-linejoin="round" /><line x1="749.0" y1="174.0" x2="793.0" y2="178.6" stroke="#111111" stroke-width="0.7" />
<path d="M768 385.6 L776.8 382.5 L775.5999999999999 383.70000000000005 L791.6 383.70000000000005 L791.6 387.5 L775.5999999999999 387.5 L776.8 388.70000000000005 Z" fill="#111111" transform="rotate(6 768 385.6)"/>
<circle cx="752.2" cy="118.5" r="9.4" fill="none" stroke="#111111" stroke-width="0.8"/>
<line x1="760.4" y1="114.2" x2="830.6" y2="129.8" stroke="#111111" stroke-width="0.8" />
<line x1="757.0" y1="126.4" x2="766.0" y2="128.2" stroke="#111111" stroke-width="0" />
<clipPath id="c3"><circle cx="866.8" cy="136.4" r="36.8"/></clipPath>
<circle cx="866.8" cy="136.4" r="36.8" fill="#fff"/>
<g clip-path="url(#c3)"><line x1="826.0" y1="131.4" x2="892.3" y2="111.9" stroke="#111111" stroke-width="1.0" /><line x1="828.0" y1="141.8" x2="898.9" y2="120.5" stroke="#111111" stroke-width="1.0" /><line x1="839.3" y1="138.4" x2="870.0" y2="133.6" stroke="#111111" stroke-width="1.0" /><line x1="868.0" y1="134.4" x2="905.0" y2="137.6" stroke="#111111" stroke-width="1.1" /><line x1="842.0" y1="138.8" x2="857.0" y2="139.8" stroke="#111111" stroke-width="1.6" /><line x1="857.0" y1="139.6" x2="905.0" y2="143.2" stroke="#111111" stroke-width="1.2" /><line x1="862.0" y1="137.4" x2="905.0" y2="140.6" stroke="#111111" stroke-width="0.8" /><polygon points="865.8,141.6 904.0,144.8 904.0,147.6 864.0,143.8" fill="#222" stroke="#111111" stroke-width="0.5" stroke-linejoin="round" /><path d="M866 143.4 L904 146.6" stroke="#bbb" stroke-width="1" stroke-dasharray="3 4" fill="none"/><rect x="857.6" y="130.2" width="14.4" height="7.6" rx="3" transform="rotate(-14 864.8 134)" fill="#111111"/><rect x="858.2" y="135.4" width="2.2" height="4.6" fill="#fff" stroke="#111111" stroke-width="0.7"/><path d="M865.8 142.4 L851.6 157.8 L892.6 162" fill="none" stroke="#111111" stroke-width="1.1"/><rect x="853.2" y="158.2" width="15.6" height="20" fill="#fff" stroke="#111111" stroke-width="1.1"/><line x1="855.2" y1="158.6" x2="855.2" y2="176.0" stroke="#111111" stroke-width="0.9" /><rect x="859.8" y="158.8" width="3.6" height="18" fill="#555"/><line x1="859.8" y1="158.6" x2="859.8" y2="176.0" stroke="#111111" stroke-width="1.1" /><line x1="863.4" y1="158.6" x2="863.4" y2="176.0" stroke="#111111" stroke-width="1.1" /><line x1="867.2" y1="159.6" x2="867.2" y2="176.0" stroke="#111111" stroke-width="0.8" /></g>
<circle cx="866.8" cy="136.4" r="36.8" fill="none" stroke="#111111" stroke-width="1.2"/>
<polygon points="1011.2,116.2 1027.4,107.8 1027.4,405.4 1011.2,405.4" fill="#ddab7f" stroke="#111111" stroke-width="0" stroke-linejoin="round" /><polygon points="998.3,116.2 1011.2,116.2 1011.2,409.0 998.3,409.0" fill="#e3b286" stroke="#111111" stroke-width="0" stroke-linejoin="round" /><line x1="1026.8" y1="110.8" x2="1026.8" y2="405.4" stroke="#6a4e35" stroke-width="1.6" /><line x1="1028.2" y1="110.8" x2="1028.2" y2="405.4" stroke="#111" stroke-width="1.3" /><polygon points="928.3,111.8 957.8,102.5 1028.4,109.8 998.3,119.2" fill="#e3b286" stroke="#111111" stroke-width="1.3" stroke-linejoin="round" /><line x1="999.8" y1="119.8" x2="1027.9" y2="111.6" stroke="#111111" stroke-width="0.7" /><polygon points="928.3,111.8 998.3,119.2 999.4,430.2 928.3,422.4" fill="#e3b286" stroke="#111111" stroke-width="1.3" stroke-linejoin="round" /><line x1="998.3" y1="119.2" x2="999.4" y2="430.2" stroke="#111111" stroke-width="1.9" /><polygon points="1056.8,125.4 1089.3,115.6 1089.4,426.0 1056.8,435.4" fill="#e3b286" stroke="#111111" stroke-width="1.3" stroke-linejoin="round" /><polygon points="1056.8,125.4 1060.0,124.5 1060.0,434.5 1056.8,435.4" fill="#735639" stroke="none" stroke-width="0" stroke-linejoin="round" /><line x1="1057.0" y1="125.4" x2="1057.0" y2="435.4" stroke="#111111" stroke-width="1.2" /><line x1="1056.8" y1="125.4" x2="1089.3" y2="115.6" stroke="#111111" stroke-width="1.6" /><line x1="1089.3" y1="115.6" x2="1089.4" y2="426.0" stroke="#111111" stroke-width="1.3" />
<polygon points="998.6,408.7 1017.4,405.0 1017.4,423.4 998.6,428.8" fill="#e3b286" stroke="#111111" stroke-width="0.6" stroke-linejoin="round" /><polygon points="1011.6,406.0 1056.6,409.1 1056.6,413.8 1014.6,410.9" fill="#cbccce" stroke="#111111" stroke-width="1.3" stroke-linejoin="round" /><line x1="1011.6" y1="406.2" x2="1056.6" y2="409.3" stroke="#111111" stroke-width="1.8" /><polygon points="998.6,408.2 1014.6,409.6 1014.6,411.8 998.6,410.4" fill="#cbccce" stroke="#111111" stroke-width="1.1" stroke-linejoin="round" /><polygon points="1038.3,414.5 1056.6,416.2 1056.6,421.8 1038.3,419.8" fill="#cbccce" stroke="#111111" stroke-width="1.1" stroke-linejoin="round" /><polygon points="1000.4,411.8 1036.6,415.4 1036.6,424.3 1000.4,420.7" fill="#cbccce" stroke="#111111" stroke-width="1.3" stroke-linejoin="round" /><line x1="1008.0" y1="412.6" x2="1008.0" y2="421.4" stroke="#111111" stroke-width="1.3" /><polygon points="1033.4,421.8 1045.0,420.6 1045.0,423.4 1033.4,424.6" fill="#111111" stroke="#111111" stroke-width="0.3" stroke-linejoin="round" /><circle cx="1010.8" cy="414.6" r="0.9" fill="#111111"/><circle cx="1006.4" cy="419.4" r="0.9" fill="#111111"/>
<rect x="1011" y="120.6" width="4.5" height="54.2" fill="#111111"/><rect x="1010.7" y="172.8" width="5.8" height="233.2" fill="#d4d7db"/><line x1="1011.3" y1="172.8" x2="1011.3" y2="406.0" stroke="#111111" stroke-width="1.2" /><line x1="1015.2" y1="175.8" x2="1015.2" y2="406.0" stroke="#111111" stroke-width="2.6" /><line x1="1015.0" y1="180.8" x2="1015.0" y2="406.0" stroke="#f2f2f2" stroke-width="0.8" stroke-dasharray="2.9 2.9"/><polygon points="1011.6,120.6 1056.4,126.0 1056.4,131.0 1011.6,125.6" fill="#d2d3d6" stroke="#111111" stroke-width="1.0" stroke-linejoin="round" /><line x1="1007.6" y1="121.0" x2="1057.4" y2="126.8" stroke="#111111" stroke-width="2.6" /><polygon points="1011.6,172.8 1056.2,178.8 1056.2,183.2 1011.6,177.2" fill="#d0d4d9" stroke="#111111" stroke-width="1.5" stroke-linejoin="round" /><line x1="1011.6" y1="174.2" x2="1056.2" y2="180.2" stroke="#111111" stroke-width="0.7" />
<rect x="1018.2" y="192.6" width="12" height="13" rx="3" fill="none" stroke="#111111" stroke-width="2.2"/><line x1="1019.0" y1="196.4" x2="1030.0" y2="196.8" stroke="#111111" stroke-width="1.2" /><line x1="1030.4" y1="194.4" x2="1056.4" y2="197.6" stroke="#111111" stroke-width="2.0" /><line x1="1030.4" y1="199.6" x2="1056.4" y2="202.4" stroke="#111111" stroke-width="1.9" /><line x1="1030.4" y1="202.4" x2="1056.4" y2="205.6" stroke="#111111" stroke-width="2.0" /><line x1="1019.0" y1="205.4" x2="1056.4" y2="208.4" stroke="#111111" stroke-width="1.6" /><line x1="1053.2" y1="202.0" x2="1053.2" y2="209.0" stroke="#111111" stroke-width="1.3" /><line x1="1005.4" y1="198.4" x2="1020.0" y2="197.2" stroke="#111111" stroke-width="2.7" stroke-linecap="round"/><line x1="1005.4" y1="204.4" x2="1020.0" y2="203.2" stroke="#111111" stroke-width="2.7" stroke-linecap="round"/><line x1="1005.4" y1="209.7" x2="1020.0" y2="208.5" stroke="#111111" stroke-width="2.7" stroke-linecap="round"/><polygon points="1010.0,197.4 1017.5,196.6 1017.5,205.0 1010.0,208.0" fill="#111111" stroke="#111111" stroke-width="0.3" stroke-linejoin="round" /><polygon points="1005.0,208.4 1016.4,204.4 1056.4,210.2 1056.4,215.9 1005.0,211.1" fill="#111111" stroke="#111111" stroke-width="0.5" stroke-linejoin="round" />
<rect x="1018.2" y="231.1" width="12" height="13" rx="3" fill="none" stroke="#111111" stroke-width="2.2"/><line x1="1019.0" y1="234.9" x2="1030.0" y2="235.3" stroke="#111111" stroke-width="1.2" /><line x1="1030.4" y1="232.9" x2="1056.4" y2="236.1" stroke="#111111" stroke-width="2.0" /><line x1="1030.4" y1="238.1" x2="1056.4" y2="240.9" stroke="#111111" stroke-width="1.9" /><line x1="1030.4" y1="240.9" x2="1056.4" y2="244.1" stroke="#111111" stroke-width="2.0" /><line x1="1019.0" y1="243.9" x2="1056.4" y2="246.9" stroke="#111111" stroke-width="1.6" /><line x1="1053.2" y1="240.5" x2="1053.2" y2="247.5" stroke="#111111" stroke-width="1.3" /><line x1="1005.4" y1="236.9" x2="1020.0" y2="235.7" stroke="#111111" stroke-width="2.7" stroke-linecap="round"/><line x1="1005.4" y1="242.9" x2="1020.0" y2="241.7" stroke="#111111" stroke-width="2.7" stroke-linecap="round"/><line x1="1005.4" y1="248.2" x2="1020.0" y2="247.0" stroke="#111111" stroke-width="2.7" stroke-linecap="round"/><polygon points="1010.0,235.9 1017.5,235.1 1017.5,243.5 1010.0,246.5" fill="#111111" stroke="#111111" stroke-width="0.3" stroke-linejoin="round" /><polygon points="1005.0,246.9 1016.4,242.9 1056.4,248.7 1056.4,254.4 1005.0,249.6" fill="#111111" stroke="#111111" stroke-width="0.5" stroke-linejoin="round" />
<rect x="1018.2" y="269.6" width="12" height="13" rx="3" fill="none" stroke="#111111" stroke-width="2.2"/><line x1="1019.0" y1="273.4" x2="1030.0" y2="273.8" stroke="#111111" stroke-width="1.2" /><line x1="1030.4" y1="271.4" x2="1056.4" y2="274.6" stroke="#111111" stroke-width="2.0" /><line x1="1030.4" y1="276.6" x2="1056.4" y2="279.4" stroke="#111111" stroke-width="1.9" /><line x1="1030.4" y1="279.4" x2="1056.4" y2="282.6" stroke="#111111" stroke-width="2.0" /><line x1="1019.0" y1="282.4" x2="1056.4" y2="285.4" stroke="#111111" stroke-width="1.6" /><line x1="1053.2" y1="279.0" x2="1053.2" y2="286.0" stroke="#111111" stroke-width="1.3" /><line x1="1005.4" y1="275.4" x2="1020.0" y2="274.2" stroke="#111111" stroke-width="2.7" stroke-linecap="round"/><line x1="1005.4" y1="281.4" x2="1020.0" y2="280.2" stroke="#111111" stroke-width="2.7" stroke-linecap="round"/><line x1="1005.4" y1="286.7" x2="1020.0" y2="285.5" stroke="#111111" stroke-width="2.7" stroke-linecap="round"/><polygon points="1010.0,274.4 1017.5,273.6 1017.5,282.0 1010.0,285.0" fill="#111111" stroke="#111111" stroke-width="0.3" stroke-linejoin="round" /><polygon points="1005.0,285.4 1016.4,281.4 1056.4,287.2 1056.4,292.9 1005.0,288.1" fill="#111111" stroke="#111111" stroke-width="0.5" stroke-linejoin="round" />
<rect x="1018.2" y="308.1" width="12" height="13" rx="3" fill="none" stroke="#111111" stroke-width="2.2"/><line x1="1019.0" y1="311.9" x2="1030.0" y2="312.3" stroke="#111111" stroke-width="1.2" /><line x1="1030.4" y1="309.9" x2="1056.4" y2="313.1" stroke="#111111" stroke-width="2.0" /><line x1="1030.4" y1="315.1" x2="1056.4" y2="317.9" stroke="#111111" stroke-width="1.9" /><line x1="1030.4" y1="317.9" x2="1056.4" y2="321.1" stroke="#111111" stroke-width="2.0" /><line x1="1019.0" y1="320.9" x2="1056.4" y2="323.9" stroke="#111111" stroke-width="1.6" /><line x1="1053.2" y1="317.5" x2="1053.2" y2="324.5" stroke="#111111" stroke-width="1.3" /><line x1="1005.4" y1="313.9" x2="1020.0" y2="312.7" stroke="#111111" stroke-width="2.7" stroke-linecap="round"/><line x1="1005.4" y1="319.9" x2="1020.0" y2="318.7" stroke="#111111" stroke-width="2.7" stroke-linecap="round"/><line x1="1005.4" y1="325.2" x2="1020.0" y2="324.0" stroke="#111111" stroke-width="2.7" stroke-linecap="round"/><polygon points="1010.0,312.9 1017.5,312.1 1017.5,320.5 1010.0,323.5" fill="#111111" stroke="#111111" stroke-width="0.3" stroke-linejoin="round" /><polygon points="1005.0,323.9 1016.4,319.9 1056.4,325.7 1056.4,331.4 1005.0,326.6" fill="#111111" stroke="#111111" stroke-width="0.5" stroke-linejoin="round" />
<rect x="1018.2" y="346.6" width="12" height="13" rx="3" fill="none" stroke="#111111" stroke-width="2.2"/><line x1="1019.0" y1="350.4" x2="1030.0" y2="350.8" stroke="#111111" stroke-width="1.2" /><line x1="1030.4" y1="348.4" x2="1056.4" y2="351.6" stroke="#111111" stroke-width="2.0" /><line x1="1030.4" y1="353.6" x2="1056.4" y2="356.4" stroke="#111111" stroke-width="1.9" /><line x1="1030.4" y1="356.4" x2="1056.4" y2="359.6" stroke="#111111" stroke-width="2.0" /><line x1="1019.0" y1="359.4" x2="1056.4" y2="362.4" stroke="#111111" stroke-width="1.6" /><line x1="1053.2" y1="356.0" x2="1053.2" y2="363.0" stroke="#111111" stroke-width="1.3" /><line x1="1005.4" y1="352.4" x2="1020.0" y2="351.2" stroke="#111111" stroke-width="2.7" stroke-linecap="round"/><line x1="1005.4" y1="358.4" x2="1020.0" y2="357.2" stroke="#111111" stroke-width="2.7" stroke-linecap="round"/><line x1="1005.4" y1="363.7" x2="1020.0" y2="362.5" stroke="#111111" stroke-width="2.7" stroke-linecap="round"/><polygon points="1010.0,351.4 1017.5,350.6 1017.5,359.0 1010.0,362.0" fill="#111111" stroke="#111111" stroke-width="0.3" stroke-linejoin="round" /><polygon points="1005.0,362.4 1016.4,358.4 1056.4,364.2 1056.4,369.9 1005.0,365.1" fill="#111111" stroke="#111111" stroke-width="0.5" stroke-linejoin="round" />
<rect x="1019.6" y="386" width="4.6" height="10.6" fill="#777" stroke="#111111" stroke-width="1"/>
<circle cx="1013.5" cy="235.4" r="12" fill="none" stroke="#111111" stroke-width="0.8"/>
<line x1="1025.4" y1="234.6" x2="1091.8" y2="230.8" stroke="#111111" stroke-width="0.8" />
<circle cx="1016.6" cy="392.2" r="12.4" fill="none" stroke="#111111" stroke-width="0.8"/>
<line x1="1029.0" y1="394.0" x2="1093.4" y2="398.2" stroke="#111111" stroke-width="0.8" />
<clipPath id="c4"><circle cx="1140.4" cy="227" r="49.2"/></clipPath>
<circle cx="1140.4" cy="227" r="49.2" fill="#fff"/>
<g clip-path="url(#c4)"><line x1="1127.2" y1="172.0" x2="1127.2" y2="215.1" stroke="#111111" stroke-width="1.0" /><line x1="1128.9" y1="172.0" x2="1128.9" y2="215.1" stroke="#111111" stroke-width="0.7" /><line x1="1138.5" y1="172.0" x2="1138.5" y2="215.1" stroke="#111111" stroke-width="1.0" /><line x1="1140.4" y1="172.0" x2="1140.4" y2="215.1" stroke="#111111" stroke-width="1.0" /><line x1="1146.9" y1="172.0" x2="1146.9" y2="215.1" stroke="#111111" stroke-width="1.0" /><rect x="1142.2" y="189.5" width="2" height="9" rx="1" fill="#111111"/><polygon points="1107.2,264.5 1127.2,259.5 1163.5,247.0 1191.0,245.8 1191.0,284.5 1107.2,284.5" fill="#1c1c1c" stroke="#111111" stroke-width="0.5" stroke-linejoin="round" /><line x1="1111.0" y1="267.0" x2="1189.8" y2="247.0" stroke="#e8e8e8" stroke-width="0.7" /><line x1="1112.2" y1="269.0" x2="1189.8" y2="249.8" stroke="#e8e8e8" stroke-width="0.7" /><line x1="1113.5" y1="271.0" x2="1189.8" y2="252.5" stroke="#e8e8e8" stroke-width="0.7" /><line x1="1114.8" y1="273.0" x2="1189.8" y2="255.2" stroke="#e8e8e8" stroke-width="0.7" /><line x1="1116.0" y1="275.0" x2="1189.8" y2="258.0" stroke="#e8e8e8" stroke-width="0.7" /><line x1="1117.2" y1="277.0" x2="1189.8" y2="260.8" stroke="#e8e8e8" stroke-width="0.7" /><line x1="1118.5" y1="279.0" x2="1189.8" y2="263.5" stroke="#e8e8e8" stroke-width="0.7" /><line x1="1119.8" y1="281.0" x2="1189.8" y2="266.2" stroke="#e8e8e8" stroke-width="0.7" /><line x1="1121.0" y1="283.0" x2="1189.8" y2="269.0" stroke="#e8e8e8" stroke-width="0.7" /><line x1="1116.0" y1="262.0" x2="1127.2" y2="279.5" stroke="#e8e8e8" stroke-width="0.6" /><line x1="1122.9" y1="260.8" x2="1134.8" y2="279.0" stroke="#e8e8e8" stroke-width="0.6" /><line x1="1129.8" y1="259.5" x2="1142.2" y2="278.5" stroke="#e8e8e8" stroke-width="0.6" /><line x1="1136.6" y1="258.2" x2="1149.8" y2="278.0" stroke="#e8e8e8" stroke-width="0.6" /><line x1="1143.5" y1="257.0" x2="1157.2" y2="277.5" stroke="#e8e8e8" stroke-width="0.6" /><line x1="1150.4" y1="255.8" x2="1164.8" y2="277.0" stroke="#e8e8e8" stroke-width="0.6" /><line x1="1157.2" y1="254.5" x2="1172.2" y2="276.5" stroke="#e8e8e8" stroke-width="0.6" /><line x1="1164.1" y1="253.2" x2="1179.8" y2="276.0" stroke="#e8e8e8" stroke-width="0.6" /><line x1="1171.0" y1="252.0" x2="1187.2" y2="275.5" stroke="#e8e8e8" stroke-width="0.6" /><line x1="1177.9" y1="250.8" x2="1194.8" y2="275.0" stroke="#e8e8e8" stroke-width="0.6" /><line x1="1184.8" y1="249.5" x2="1202.2" y2="274.5" stroke="#e8e8e8" stroke-width="0.6" /><line x1="1191.6" y1="248.2" x2="1209.8" y2="274.0" stroke="#e8e8e8" stroke-width="0.6" /><path d="M1108.2 218.9 L1121.6 214.2" fill="none" stroke="#111111" stroke-width="4.0" stroke-linecap="round" stroke-linejoin="round"/><path d="M1108.2 218.9 L1121.6 214.2" fill="none" stroke="#fff" stroke-width="2.3000000000000003" stroke-linecap="round" stroke-linejoin="round"/><path d="M1104.5 228.2 L1123.5 222.2" fill="none" stroke="#111111" stroke-width="4.0" stroke-linecap="round" stroke-linejoin="round"/><path d="M1104.5 228.2 L1123.5 222.2" fill="none" stroke="#fff" stroke-width="2.3000000000000003" stroke-linecap="round" stroke-linejoin="round"/><path d="M1104.5 248.2 L1129.8 240.5" fill="none" stroke="#111111" stroke-width="4.0" stroke-linecap="round" stroke-linejoin="round"/><path d="M1104.5 248.2 L1129.8 240.5" fill="none" stroke="#fff" stroke-width="2.3000000000000003" stroke-linecap="round" stroke-linejoin="round"/><path d="M1159.1 252.0 L1159.1 207.0 L1162.2 202.6 L1173.5 198.9 L1182.2 199.2" fill="none" stroke="#111111" stroke-width="4.4" stroke-linecap="round" stroke-linejoin="round"/><path d="M1159.1 252.0 L1159.1 207.0 L1162.2 202.6 L1173.5 198.9 L1182.2 199.2" fill="none" stroke="#fff" stroke-width="2.7" stroke-linecap="round" stroke-linejoin="round"/><path d="M1161.0 210.8 L1173.5 207.2 L1189.8 208.2" fill="none" stroke="#111111" stroke-width="4.0" stroke-linecap="round" stroke-linejoin="round"/><path d="M1161.0 210.8 L1173.5 207.2 L1189.8 208.2" fill="none" stroke="#fff" stroke-width="2.3000000000000003" stroke-linecap="round" stroke-linejoin="round"/><path d="M1161.0 230.8 L1173.5 227.6 L1191.0 228.9" fill="none" stroke="#111111" stroke-width="4.0" stroke-linecap="round" stroke-linejoin="round"/><path d="M1161.0 230.8 L1173.5 227.6 L1191.0 228.9" fill="none" stroke="#fff" stroke-width="2.3000000000000003" stroke-linecap="round" stroke-linejoin="round"/><polygon points="1136.6,213.2 1149.8,209.5 1151.0,213.2 1149.1,252.0 1137.2,254.5" fill="#fff" stroke="#111111" stroke-width="1.1" stroke-linejoin="round" /><line x1="1141.0" y1="212.6" x2="1139.8" y2="253.2" stroke="#111111" stroke-width="1.0" /><line x1="1144.8" y1="211.8" x2="1142.9" y2="253.2" stroke="#111111" stroke-width="1.0" /><line x1="1147.5" y1="222.0" x2="1145.8" y2="252.0" stroke="#111111" stroke-width="1.0" /><polygon points="1129.1,215.1 1136.0,214.5 1136.0,259.5 1129.1,259.5" fill="#fff" stroke="#111111" stroke-width="1.0" stroke-linejoin="round" /><line x1="1131.0" y1="215.1" x2="1131.0" y2="259.5" stroke="#111111" stroke-width="1.6" /><path d="M1123.2 222.0 L1123.2 262.0" fill="none" stroke="#111111" stroke-width="3.6" stroke-linecap="round" stroke-linejoin="round"/><path d="M1123.2 222.0 L1123.2 262.0" fill="none" stroke="#fff" stroke-width="1.9000000000000001" stroke-linecap="round" stroke-linejoin="round"/><path d="M1134.1 225.8 L1134.1 269.5" fill="none" stroke="#111111" stroke-width="3.8" stroke-linecap="round" stroke-linejoin="round"/><path d="M1134.1 225.8 L1134.1 269.5" fill="none" stroke="#fff" stroke-width="2.1" stroke-linecap="round" stroke-linejoin="round"/><path d="M1108.2 218.9 L1128.5 221.0 L1133.5 224.5" fill="none" stroke="#111111" stroke-width="4.199999999999999" stroke-linecap="round" stroke-linejoin="round"/><path d="M1108.2 218.9 L1128.5 221.0 L1133.5 224.5" fill="none" stroke="#fff" stroke-width="2.5" stroke-linecap="round" stroke-linejoin="round"/><path d="M1104.5 228.5 L1191.0 237.5" fill="none" stroke="#111111" stroke-width="4.4" stroke-linecap="round" stroke-linejoin="round"/><path d="M1104.5 228.5 L1191.0 237.5" fill="none" stroke="#fff" stroke-width="2.7" stroke-linecap="round" stroke-linejoin="round"/><path d="M1104.5 248.5 L1179.1 257.5" fill="none" stroke="#111111" stroke-width="4.4" stroke-linecap="round" stroke-linejoin="round"/><path d="M1104.5 248.5 L1179.1 257.5" fill="none" stroke="#fff" stroke-width="2.7" stroke-linecap="round" stroke-linejoin="round"/></g>
<circle cx="1140.4" cy="227" r="49.2" fill="none" stroke="#111111" stroke-width="1.2"/>
<clipPath id="c5"><circle cx="1141.9" cy="399.7" r="49"/></clipPath>
<circle cx="1141.9" cy="399.7" r="49" fill="#fff"/>
<g clip-path="url(#c5)"><line x1="1118.5" y1="352.5" x2="1118.5" y2="441.5" stroke="#111111" stroke-width="1.0" /><line x1="1129.8" y1="350.0" x2="1129.8" y2="441.5" stroke="#111111" stroke-width="1.6" /><line x1="1137.2" y1="350.0" x2="1137.2" y2="439.8" stroke="#111111" stroke-width="1.6" /><line x1="1181.6" y1="370.0" x2="1181.6" y2="428.8" stroke="#111111" stroke-width="1.0" /><line x1="1187.2" y1="382.5" x2="1187.2" y2="417.5" stroke="#111111" stroke-width="0.9" /><rect x="1132.5" y="352.2" width="2" height="6.5" rx="1" fill="#777" stroke="#111111" stroke-width="0.7"/><rect x="1132.5" y="379.4" width="2" height="8.4" rx="1" fill="#777" stroke="#111111" stroke-width="0.7"/><rect x="1132.5" y="408.8" width="2" height="8.4" rx="1" fill="#777" stroke="#111111" stroke-width="0.7"/><line x1="1118.5" y1="441.2" x2="1166.0" y2="444.0" stroke="#111111" stroke-width="1.0" /><line x1="1129.8" y1="441.5" x2="1137.2" y2="439.5" stroke="#111111" stroke-width="1.0" /><line x1="1137.2" y1="439.5" x2="1167.2" y2="442.0" stroke="#111111" stroke-width="1.0" /><line x1="1123.5" y1="445.0" x2="1161.0" y2="446.5" stroke="#111111" stroke-width="0.9" /><polygon points="1146.2,371.9 1149.8,371.6 1149.8,419.0 1146.2,420.6" fill="#ddd" stroke="#111111" stroke-width="1.1" stroke-linejoin="round" /><polygon points="1149.8,371.6 1161.0,371.6 1169.1,370.6 1164.8,418.1 1156.0,421.0 1149.8,419.0" fill="#fff" stroke="#111111" stroke-width="1.1" stroke-linejoin="round" /><polygon points="1156.6,369.5 1167.9,366.8 1169.1,370.6 1161.0,371.6" fill="#eee" stroke="#111111" stroke-width="1.1" stroke-linejoin="round" /><line x1="1159.8" y1="371.9" x2="1154.1" y2="419.0" stroke="#111111" stroke-width="1.0" /><line x1="1162.5" y1="371.9" x2="1157.2" y2="415.0" stroke="#111111" stroke-width="0.9" /><polygon points="1163.5,378.8 1167.0,378.2 1165.0,405.0 1161.5,405.8" fill="#fff" stroke="#111111" stroke-width="1.0" stroke-linejoin="round" /><line x1="1146.2" y1="420.6" x2="1156.0" y2="421.2" stroke="#111111" stroke-width="1.4" /><line x1="1156.0" y1="421.2" x2="1168.2" y2="417.0" stroke="#111111" stroke-width="1.6" /><path d="M1132.25 431.25 L1141.05 427.65 L1139.85 429.25 L1161.25 429.25 L1161.25 433.25 L1139.85 433.25 L1141.05 434.85 Z" fill="#111111" transform="rotate(5 1132.25 431.25)"/></g>
<circle cx="1141.9" cy="399.7" r="49" fill="none" stroke="#111111" stroke-width="1.2"/>
<polygon points="758.7,484.0 775.0,475.7 775.0,765.8 758.7,765.8" fill="#ddab7f" stroke="#111111" stroke-width="0" stroke-linejoin="round" /><polygon points="746.3,484.0 758.7,484.0 758.7,769.4 746.3,769.4" fill="#e3b286" stroke="#111111" stroke-width="0" stroke-linejoin="round" /><line x1="774.4" y1="478.7" x2="774.4" y2="765.8" stroke="#6a4e35" stroke-width="1.6" /><line x1="775.8" y1="478.7" x2="775.8" y2="765.8" stroke="#111" stroke-width="1.3" /><polygon points="678.5,479.3 707.8,470.5 776.4,477.7 746.3,487.0" fill="#e3b286" stroke="#111111" stroke-width="1.3" stroke-linejoin="round" /><line x1="747.8" y1="487.6" x2="775.9" y2="479.5" stroke="#111111" stroke-width="0.7" /><polygon points="678.5,479.3 746.3,487.0 747.3,789.4 678.5,783.0" fill="#e3b286" stroke="#111111" stroke-width="1.3" stroke-linejoin="round" /><line x1="746.3" y1="487.0" x2="747.3" y2="789.4" stroke="#111111" stroke-width="1.9" /><polygon points="803.0,493.2 835.5,483.4 835.6,785.0 803.0,795.6" fill="#e3b286" stroke="#111111" stroke-width="1.3" stroke-linejoin="round" /><polygon points="803.0,493.2 806.2,492.3 806.2,794.7 803.0,795.6" fill="#735639" stroke="none" stroke-width="0" stroke-linejoin="round" /><line x1="803.2" y1="493.2" x2="803.2" y2="795.6" stroke="#111111" stroke-width="1.2" /><line x1="803.0" y1="493.2" x2="835.5" y2="483.4" stroke="#111111" stroke-width="1.6" /><line x1="835.5" y1="483.4" x2="835.6" y2="785.0" stroke="#111111" stroke-width="1.3" />
<polygon points="746.6,769.1 765.4,765.4 765.4,783.8 746.6,789.2" fill="#e3b286" stroke="#111111" stroke-width="0.6" stroke-linejoin="round" /><polygon points="759.6,766.4 802.6,769.5 802.6,774.2 762.6,771.3" fill="#cbccce" stroke="#111111" stroke-width="1.3" stroke-linejoin="round" /><line x1="759.6" y1="766.6" x2="802.6" y2="769.7" stroke="#111111" stroke-width="1.8" /><polygon points="746.6,768.6 762.6,770.0 762.6,772.2 746.6,770.8" fill="#cbccce" stroke="#111111" stroke-width="1.1" stroke-linejoin="round" /><polygon points="786.3,774.9 802.6,776.6 802.6,782.2 786.3,780.2" fill="#cbccce" stroke="#111111" stroke-width="1.1" stroke-linejoin="round" /><polygon points="748.4,772.2 784.6,775.8 784.6,784.7 748.4,781.1" fill="#cbccce" stroke="#111111" stroke-width="1.3" stroke-linejoin="round" /><line x1="756.0" y1="773.0" x2="756.0" y2="781.8" stroke="#111111" stroke-width="1.3" /><polygon points="781.4,782.2 793.0,781.0 793.0,783.8 781.4,785.0" fill="#111111" stroke="#111111" stroke-width="0.3" stroke-linejoin="round" /><circle cx="758.8" cy="775.0" r="0.9" fill="#111111"/><circle cx="754.4" cy="779.8" r="0.9" fill="#111111"/>
<rect x="758.7" y="487.8" width="3.8" height="53.6" fill="#111111"/><rect x="758.4" y="539.4" width="5.8" height="228.6" fill="#d4d7db"/><line x1="759.0" y1="539.4" x2="759.0" y2="768.0" stroke="#111111" stroke-width="1.2" /><line x1="762.9" y1="542.4" x2="762.9" y2="768.0" stroke="#111111" stroke-width="2.6" /><line x1="762.7" y1="547.4" x2="762.7" y2="768.0" stroke="#f2f2f2" stroke-width="0.8" stroke-dasharray="2.9 2.9"/><polygon points="759.5,487.8 802.3,493.2 802.3,498.2 759.5,492.8" fill="#d2d3d6" stroke="#111111" stroke-width="1.0" stroke-linejoin="round" /><line x1="755.5" y1="488.2" x2="803.3" y2="494.0" stroke="#111111" stroke-width="2.6" /><polygon points="759.5,539.4 802.3,544.5 802.3,548.9 759.5,543.8" fill="#d0d4d9" stroke="#111111" stroke-width="1.5" stroke-linejoin="round" /><line x1="759.5" y1="540.8" x2="802.3" y2="545.9" stroke="#111111" stroke-width="0.7" />
<rect x="765.9" y="558.1" width="12" height="13" rx="3" fill="none" stroke="#111111" stroke-width="2.2"/><line x1="766.7" y1="561.9" x2="777.7" y2="562.3" stroke="#111111" stroke-width="1.2" /><line x1="778.1" y1="559.9" x2="802.5" y2="563.1" stroke="#111111" stroke-width="2.0" /><line x1="778.1" y1="565.1" x2="802.5" y2="567.9" stroke="#111111" stroke-width="1.9" /><line x1="778.1" y1="567.9" x2="802.5" y2="571.1" stroke="#111111" stroke-width="2.0" /><line x1="766.7" y1="570.9" x2="802.5" y2="573.9" stroke="#111111" stroke-width="1.6" /><line x1="799.3" y1="567.5" x2="799.3" y2="574.5" stroke="#111111" stroke-width="1.3" /><line x1="753.1" y1="563.9" x2="767.7" y2="562.7" stroke="#111111" stroke-width="2.7" stroke-linecap="round"/><line x1="753.1" y1="569.9" x2="767.7" y2="568.7" stroke="#111111" stroke-width="2.7" stroke-linecap="round"/><line x1="753.1" y1="575.2" x2="767.7" y2="574.0" stroke="#111111" stroke-width="2.7" stroke-linecap="round"/><polygon points="757.7,562.9 765.2,562.1 765.2,570.5 757.7,573.5" fill="#111111" stroke="#111111" stroke-width="0.3" stroke-linejoin="round" /><polygon points="752.7,573.9 764.1,569.9 802.5,575.7 802.5,581.4 752.7,576.6" fill="#111111" stroke="#111111" stroke-width="0.5" stroke-linejoin="round" />
<rect x="765.9" y="595.3" width="12" height="13" rx="3" fill="none" stroke="#111111" stroke-width="2.2"/><line x1="766.7" y1="599.1" x2="777.7" y2="599.5" stroke="#111111" stroke-width="1.2" /><line x1="778.1" y1="597.1" x2="802.5" y2="600.3" stroke="#111111" stroke-width="2.0" /><line x1="778.1" y1="602.3" x2="802.5" y2="605.1" stroke="#111111" stroke-width="1.9" /><line x1="778.1" y1="605.1" x2="802.5" y2="608.3" stroke="#111111" stroke-width="2.0" /><line x1="766.7" y1="608.1" x2="802.5" y2="611.1" stroke="#111111" stroke-width="1.6" /><line x1="799.3" y1="604.7" x2="799.3" y2="611.7" stroke="#111111" stroke-width="1.3" /><line x1="753.1" y1="601.1" x2="767.7" y2="599.9" stroke="#111111" stroke-width="2.7" stroke-linecap="round"/><line x1="753.1" y1="607.1" x2="767.7" y2="605.9" stroke="#111111" stroke-width="2.7" stroke-linecap="round"/><line x1="753.1" y1="612.4" x2="767.7" y2="611.2" stroke="#111111" stroke-width="2.7" stroke-linecap="round"/><polygon points="757.7,600.1 765.2,599.3 765.2,607.7 757.7,610.7" fill="#111111" stroke="#111111" stroke-width="0.3" stroke-linejoin="round" /><polygon points="752.7,611.1 764.1,607.1 802.5,612.9 802.5,618.6 752.7,613.8" fill="#111111" stroke="#111111" stroke-width="0.5" stroke-linejoin="round" />
<rect x="765.9" y="632.5" width="12" height="13" rx="3" fill="none" stroke="#111111" stroke-width="2.2"/><line x1="766.7" y1="636.3" x2="777.7" y2="636.7" stroke="#111111" stroke-width="1.2" /><line x1="778.1" y1="634.3" x2="802.5" y2="637.5" stroke="#111111" stroke-width="2.0" /><line x1="778.1" y1="639.5" x2="802.5" y2="642.3" stroke="#111111" stroke-width="1.9" /><line x1="778.1" y1="642.3" x2="802.5" y2="645.5" stroke="#111111" stroke-width="2.0" /><line x1="766.7" y1="645.3" x2="802.5" y2="648.3" stroke="#111111" stroke-width="1.6" /><line x1="799.3" y1="641.9" x2="799.3" y2="648.9" stroke="#111111" stroke-width="1.3" /><line x1="753.1" y1="638.3" x2="767.7" y2="637.1" stroke="#111111" stroke-width="2.7" stroke-linecap="round"/><line x1="753.1" y1="644.3" x2="767.7" y2="643.1" stroke="#111111" stroke-width="2.7" stroke-linecap="round"/><line x1="753.1" y1="649.6" x2="767.7" y2="648.4" stroke="#111111" stroke-width="2.7" stroke-linecap="round"/><polygon points="757.7,637.3 765.2,636.5 765.2,644.9 757.7,647.9" fill="#111111" stroke="#111111" stroke-width="0.3" stroke-linejoin="round" /><polygon points="752.7,648.3 764.1,644.3 802.5,650.1 802.5,655.8 752.7,651.0" fill="#111111" stroke="#111111" stroke-width="0.5" stroke-linejoin="round" />
<rect x="765.9" y="669.7" width="12" height="13" rx="3" fill="none" stroke="#111111" stroke-width="2.2"/><line x1="766.7" y1="673.5" x2="777.7" y2="673.9" stroke="#111111" stroke-width="1.2" /><line x1="778.1" y1="671.5" x2="802.5" y2="674.7" stroke="#111111" stroke-width="2.0" /><line x1="778.1" y1="676.7" x2="802.5" y2="679.5" stroke="#111111" stroke-width="1.9" /><line x1="778.1" y1="679.5" x2="802.5" y2="682.7" stroke="#111111" stroke-width="2.0" /><line x1="766.7" y1="682.5" x2="802.5" y2="685.5" stroke="#111111" stroke-width="1.6" /><line x1="799.3" y1="679.1" x2="799.3" y2="686.1" stroke="#111111" stroke-width="1.3" /><line x1="753.1" y1="675.5" x2="767.7" y2="674.3" stroke="#111111" stroke-width="2.7" stroke-linecap="round"/><line x1="753.1" y1="681.5" x2="767.7" y2="680.3" stroke="#111111" stroke-width="2.7" stroke-linecap="round"/><line x1="753.1" y1="686.8" x2="767.7" y2="685.6" stroke="#111111" stroke-width="2.7" stroke-linecap="round"/><polygon points="757.7,674.5 765.2,673.7 765.2,682.1 757.7,685.1" fill="#111111" stroke="#111111" stroke-width="0.3" stroke-linejoin="round" /><polygon points="752.7,685.5 764.1,681.5 802.5,687.3 802.5,693.0 752.7,688.2" fill="#111111" stroke="#111111" stroke-width="0.5" stroke-linejoin="round" />
<rect x="765.9" y="706.9" width="12" height="13" rx="3" fill="none" stroke="#111111" stroke-width="2.2"/><line x1="766.7" y1="710.7" x2="777.7" y2="711.1" stroke="#111111" stroke-width="1.2" /><line x1="778.1" y1="708.7" x2="802.5" y2="711.9" stroke="#111111" stroke-width="2.0" /><line x1="778.1" y1="713.9" x2="802.5" y2="716.7" stroke="#111111" stroke-width="1.9" /><line x1="778.1" y1="716.7" x2="802.5" y2="719.9" stroke="#111111" stroke-width="2.0" /><line x1="766.7" y1="719.7" x2="802.5" y2="722.7" stroke="#111111" stroke-width="1.6" /><line x1="799.3" y1="716.3" x2="799.3" y2="723.3" stroke="#111111" stroke-width="1.3" /><line x1="753.1" y1="712.7" x2="767.7" y2="711.5" stroke="#111111" stroke-width="2.7" stroke-linecap="round"/><line x1="753.1" y1="718.7" x2="767.7" y2="717.5" stroke="#111111" stroke-width="2.7" stroke-linecap="round"/><line x1="753.1" y1="724.0" x2="767.7" y2="722.8" stroke="#111111" stroke-width="2.7" stroke-linecap="round"/><polygon points="757.7,711.7 765.2,710.9 765.2,719.3 757.7,722.3" fill="#111111" stroke="#111111" stroke-width="0.3" stroke-linejoin="round" /><polygon points="752.7,722.7 764.1,718.7 802.5,724.5 802.5,730.2 752.7,725.4" fill="#111111" stroke="#111111" stroke-width="0.5" stroke-linejoin="round" />
<rect x="765.9" y="744.1" width="12" height="13" rx="3" fill="none" stroke="#111111" stroke-width="2.2"/><line x1="766.7" y1="747.9" x2="777.7" y2="748.3" stroke="#111111" stroke-width="1.2" /><line x1="778.1" y1="745.9" x2="802.5" y2="749.1" stroke="#111111" stroke-width="2.0" /><line x1="778.1" y1="751.1" x2="802.5" y2="753.9" stroke="#111111" stroke-width="1.9" /><line x1="778.1" y1="753.9" x2="802.5" y2="757.1" stroke="#111111" stroke-width="2.0" /><line x1="766.7" y1="756.9" x2="802.5" y2="759.9" stroke="#111111" stroke-width="1.6" /><line x1="799.3" y1="753.5" x2="799.3" y2="760.5" stroke="#111111" stroke-width="1.3" /><line x1="753.1" y1="749.9" x2="767.7" y2="748.7" stroke="#111111" stroke-width="2.7" stroke-linecap="round"/><line x1="753.1" y1="755.9" x2="767.7" y2="754.7" stroke="#111111" stroke-width="2.7" stroke-linecap="round"/><line x1="753.1" y1="761.2" x2="767.7" y2="760.0" stroke="#111111" stroke-width="2.7" stroke-linecap="round"/><polygon points="757.7,748.9 765.2,748.1 765.2,756.5 757.7,759.5" fill="#111111" stroke="#111111" stroke-width="0.3" stroke-linejoin="round" /><polygon points="752.7,759.9 764.1,755.9 802.5,761.7 802.5,767.4 752.7,762.6" fill="#111111" stroke="#111111" stroke-width="0.5" stroke-linejoin="round" />
<path d="M849.5 569.2 L859.9 565.6 L858.6999999999999 567.1500000000001 L876.8 567.1500000000001 L876.8 571.25 L858.6999999999999 571.25 L859.9 572.8000000000001 Z" fill="#111111" transform="rotate(0 849.5 569.2)"/>
<clipPath id="c6"><circle cx="930.7" cy="567.7" r="44"/></clipPath>
<circle cx="930.7" cy="567.7" r="44" fill="#fff"/>
<g clip-path="url(#c6)"><line x1="910.1" y1="527.2" x2="910.1" y2="562.6" stroke="#111111" stroke-width="1.2" /><line x1="923.1" y1="522.3" x2="923.1" y2="563.4" stroke="#111111" stroke-width="1.8" /><line x1="925.3" y1="522.3" x2="925.3" y2="558.7" stroke="#111111" stroke-width="1.0" /><line x1="925.3" y1="558.5" x2="976.0" y2="561.9" stroke="#111111" stroke-width="1.6" /><line x1="925.3" y1="560.4" x2="976.0" y2="563.9" stroke="#111111" stroke-width="0.9" /><line x1="910.1" y1="562.6" x2="923.1" y2="563.4" stroke="#111111" stroke-width="1.2" /><line x1="923.1" y1="563.4" x2="976.0" y2="566.5" stroke="#111111" stroke-width="1.4" /><line x1="921.3" y1="575.8" x2="976.0" y2="581.6" stroke="#111111" stroke-width="1.3" /><line x1="911.0" y1="563.1" x2="921.3" y2="575.8" stroke="#111111" stroke-width="1.0" /><line x1="913.4" y1="566.0" x2="913.4" y2="574.5" stroke="#111111" stroke-width="0.8" /><line x1="913.4" y1="574.5" x2="921.3" y2="575.5" stroke="#111111" stroke-width="0.8" /><line x1="974.2" y1="561.9" x2="973.0" y2="581.4" stroke="#111111" stroke-width="1.0" /><polygon points="898.2,583.7 910.4,563.6 913.4,566.0 902.1,594.2 898.5,594.0" fill="#fff" stroke="#111111" stroke-width="1.2" stroke-linejoin="round" /><line x1="900.4" y1="584.9" x2="911.8" y2="565.4" stroke="#111111" stroke-width="0.8" /><line x1="900.4" y1="584.9" x2="900.9" y2="593.7" stroke="#111111" stroke-width="0.8" /><rect x="903.1" y="578.8" width="2.6" height="8" rx="1.2" transform="rotate(14 904.3 583.1)" fill="#fff" stroke="#111111" stroke-width="1"/><ellipse cx="967.5" cy="563.6" rx="3.4" ry="1.5" fill="#999" stroke="#111111" stroke-width="1"/><rect x="923.4" y="569.3" width="6.8" height="4.4" rx="1.6" fill="#fff" stroke="#111111" stroke-width="1.5"/><rect x="935.8" y="569.9" width="6.8" height="4.4" rx="1.6" fill="#fff" stroke="#111111" stroke-width="1.5"/><rect x="936.8" y="570.9" width="4.8" height="2.6" rx="1" fill="#111111"/><rect x="948.5" y="570.9" width="6.8" height="4.4" rx="1.6" fill="#fff" stroke="#111111" stroke-width="1.5"/></g>
<circle cx="930.7" cy="567.7" r="44" fill="none" stroke="#111111" stroke-width="1.2"/>
<line x1="927.6" y1="508.8" x2="937.2" y2="558.0" stroke="#111111" stroke-width="0.9" />
<path d="M938.6 566.4 L934.8 557 L940.6 556 Z" fill="#111111"/>
<rect x="935.2" y="556.6" width="5" height="4" fill="#111111"/>
<line x1="928.8" y1="628.8" x2="926.9" y2="585.0" stroke="#111111" stroke-width="0.9" />
<line x1="928.8" y1="628.8" x2="949.4" y2="585.0" stroke="#111111" stroke-width="0.9" />
<path d="M926.8 575.6 L923.6 587.2 L930.2 587 Z" fill="#111111"/>
<path d="M952 575.4 L945.6 585.2 L951.6 588 Z" fill="#111111"/>
</svg>
</body>
</html>
